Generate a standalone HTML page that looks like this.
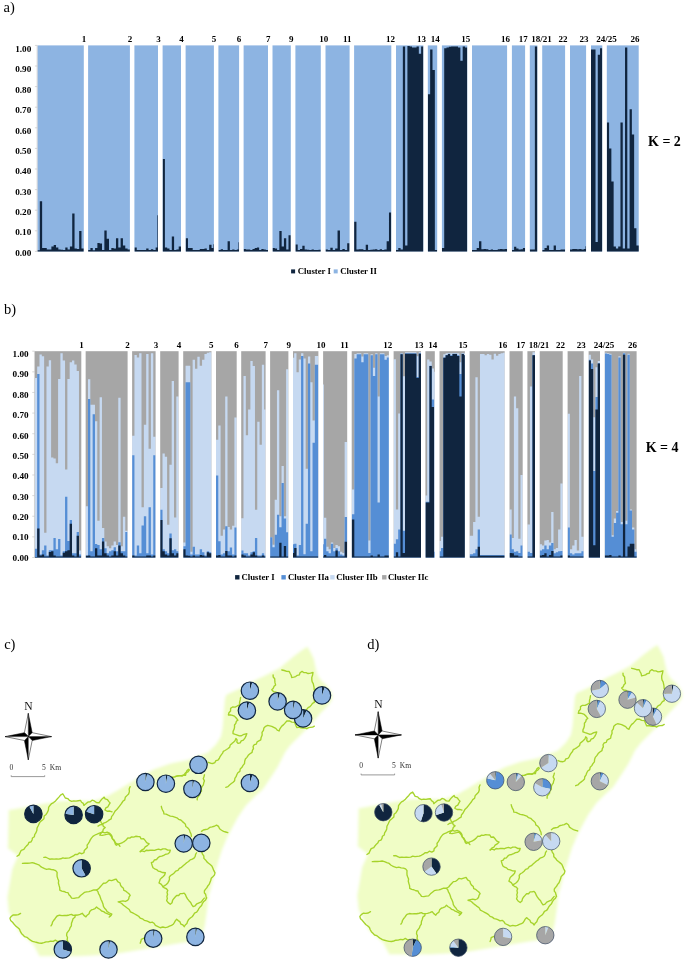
<!DOCTYPE html>
<html lang="en">
<head>
<meta charset="utf-8">
<title>Figure: STRUCTURE clustering K = 2 and K = 4</title>
<style>
html,body{margin:0;padding:0;background:#fff;}
body{width:685px;height:962px;overflow:hidden;}
svg{display:block;}
</style>
</head>
<body>
<svg width="685" height="962" viewBox="0 0 685 962">
<defs><filter id="soft" x="-5%" y="-5%" width="110%" height="110%"><feGaussianBlur stdDeviation="1.6"/></filter></defs>
<rect width="685" height="962" fill="#fff"/>

<g id="chart-a">
<rect x="37.5" y="45.4" width="601.2" height="206" fill="#8db4e2"/>
<path d="M37.5 251.4L37.5 250.16L39.81 250.16L39.81 201.14L42.13 201.14L42.13 248.1L44.45 248.1L44.45 248.1L46.76 248.1L46.76 249.55L49.08 249.55L49.08 249.55L51.39 249.55L51.39 246.46L53.7 246.46L53.7 245.01L56.02 245.01L56.02 247.49L58.34 247.49L58.34 249.55L60.65 249.55L60.65 249.75L62.97 249.75L62.97 249.96L65.28 249.96L65.28 247.49L67.59 247.49L67.59 249.55L69.91 249.55L69.91 246.46L72.22 246.46L72.22 213.5L74.54 213.5L74.54 248.52L76.85 248.52L76.85 248.93L79.17 248.93L79.17 231.01L81.48 231.01L81.48 248.52L83.8 248.52L83.8 251.4Z" fill="#10253f"/>
<path d="M88.1 251.4L88.1 249.96L90.42 249.96L90.42 248.1L92.74 248.1L92.74 250.16L95.07 250.16L95.07 248.1L97.39 248.1L97.39 242.95L99.71 242.95L99.71 243.57L102.03 243.57L102.03 249.96L104.36 249.96L104.36 230.59L106.68 230.59L106.68 238.63L109 238.63L109 249.96L111.32 249.96L111.32 248.1L113.64 248.1L113.64 248.52L115.97 248.52L115.97 238.22L118.29 238.22L118.29 247.49L120.61 247.49L120.61 238.22L122.93 238.22L122.93 245.43L125.26 245.43L125.26 248.52L127.58 248.52L127.58 249.55L129.9 249.55L129.9 251.4Z" fill="#10253f"/>
<path d="M134.4 251.4L134.4 247.49L136.76 247.49L136.76 249.96L139.12 249.96L139.12 249.96L141.48 249.96L141.48 249.96L143.84 249.96L143.84 249.96L146.2 249.96L146.2 248.52L148.56 248.52L148.56 249.96L150.92 249.96L150.92 249.34L153.28 249.34L153.28 249.96L155.64 249.96L155.64 247.49L157.4 247.49L157.4 215.35L158 215.35L158 251.4Z" fill="#10253f"/>
<path d="M162.6 251.4L162.6 158.91L164.9 158.91L164.9 247.49L167.2 247.49L167.2 248.52L169.5 248.52L169.5 249.96L171.8 249.96L171.8 236.57L174.1 236.57L174.1 249.96L176.4 249.96L176.4 249.55L178.7 249.55L178.7 246.46L181 246.46L181 251.4Z" fill="#10253f"/>
<path d="M185.6 251.4L185.6 238.22L187.96 238.22L187.96 248.1L190.32 248.1L190.32 248.1L192.68 248.1L192.68 249.96L195.03 249.96L195.03 249.96L197.39 249.96L197.39 249.96L199.75 249.96L199.75 248.93L202.11 248.93L202.11 248.93L204.47 248.93L204.47 248.52L206.82 248.52L206.82 249.96L209.18 249.96L209.18 244.81L211.54 244.81L211.54 248.1L213.3 248.1L213.3 244.19L213.9 244.19L213.9 251.4Z" fill="#10253f"/>
<path d="M218.4 251.4L218.4 249.96L220.7 249.96L220.7 249.34L223 249.34L223 249.96L225.3 249.96L225.3 249.96L227.6 249.96L227.6 241.31L229.9 241.31L229.9 249.96L232.2 249.96L232.2 249.55L234.5 249.55L234.5 249.96L236.8 249.96L236.8 249.55L238.5 249.55L238.5 242.13L239.1 242.13L239.1 251.4Z" fill="#10253f"/>
<path d="M243.6 251.4L243.6 248.93L245.82 248.93L245.82 249.55L248.04 249.55L248.04 249.55L250.25 249.55L250.25 249.96L252.47 249.96L252.47 248.93L254.69 248.93L254.69 248.1L256.91 248.1L256.91 247.49L259.13 247.49L259.13 249.96L261.35 249.96L261.35 248.93L263.56 248.93L263.56 249.55L265.78 249.55L265.78 249.96L268 249.96L268 251.4Z" fill="#10253f"/>
<path d="M272.5 251.4L272.5 248.1L274.79 248.1L274.79 248.52L277.07 248.52L277.07 249.96L279.36 249.96L279.36 231.01L281.65 231.01L281.65 246.46L283.94 246.46L283.94 238.22L286.23 238.22L286.23 249.55L288.51 249.55L288.51 235.13L290.8 235.13L290.8 251.4Z" fill="#10253f"/>
<path d="M295.4 251.4L295.4 244.4L297.71 244.4L297.71 249.96L300.02 249.96L300.02 248.93L302.33 248.93L302.33 245.63L304.64 245.63L304.64 249.55L306.95 249.55L306.95 249.75L309.25 249.75L309.25 249.96L311.56 249.96L311.56 249.55L313.87 249.55L313.87 249.96L316.18 249.96L316.18 249.96L318.49 249.96L318.49 249.75L320.8 249.75L320.8 251.4Z" fill="#10253f"/>
<path d="M325.5 251.4L325.5 249.55L327.91 249.55L327.91 249.96L330.32 249.96L330.32 247.69L332.73 247.69L332.73 249.96L335.14 249.96L335.14 248.52L337.55 248.52L337.55 230.59L339.96 230.59L339.96 249.96L342.37 249.96L342.37 248.93L344.78 248.93L344.78 249.96L347.19 249.96L347.19 243.37L349.6 243.37L349.6 251.4Z" fill="#10253f"/>
<path d="M354.1 251.4L354.1 221.74L356.43 221.74L356.43 249.55L358.75 249.55L358.75 249.13L361.08 249.13L361.08 249.13L363.4 249.13L363.4 249.96L365.73 249.96L365.73 244.81L368.05 244.81L368.05 249.96L370.38 249.96L370.38 249.75L372.7 249.75L372.7 249.55L375.03 249.55L375.03 249.13L377.35 249.13L377.35 249.96L379.68 249.96L379.68 249.13L382 249.13L382 249.96L384.32 249.96L384.32 249.55L386.65 249.55L386.65 241.31L388.98 241.31L388.98 212.47L391.3 212.47L391.3 251.4Z" fill="#10253f"/>
<path d="M396 251.4L396 249.96L398.28 249.96L398.28 248.1L400.57 248.1L400.57 249.55L402.85 249.55L402.85 46.43L405.13 46.43L405.13 245.43L407.42 245.43L407.42 46.02L409.7 46.02L409.7 46.43L411.98 46.43L411.98 47.46L414.27 47.46L414.27 47.46L416.55 47.46L416.55 46.43L418.83 46.43L418.83 53.64L421.12 53.64L421.12 46.43L423.4 46.43L423.4 251.4Z" fill="#10253f"/>
<path d="M427.8 251.4L427.8 94.22L430.15 94.22L430.15 49.52L432.5 49.52L432.5 70.12L434.85 70.12L434.85 249.96L437.2 249.96L437.2 251.4Z" fill="#10253f"/>
<path d="M441.9 251.4L441.9 248.1L444.21 248.1L444.21 48.28L446.52 48.28L446.52 47.46L448.83 47.46L448.83 46.84L451.14 46.84L451.14 46.43L453.45 46.43L453.45 46.43L455.75 46.43L455.75 46.43L458.06 46.43L458.06 47.46L460.37 47.46L460.37 60.64L462.68 60.64L462.68 46.43L464.99 46.43L464.99 47.46L467.3 47.46L467.3 251.4Z" fill="#10253f"/>
<path d="M472 251.4L472 249.96L474.34 249.96L474.34 249.96L476.68 249.96L476.68 248.1L479.02 248.1L479.02 241.31L481.36 241.31L481.36 249.34L483.7 249.34L483.7 248.93L486.04 248.93L486.04 249.34L488.38 249.34L488.38 249.96L490.72 249.96L490.72 249.55L493.06 249.55L493.06 249.96L495.4 249.96L495.4 249.96L497.74 249.96L497.74 249.13L500.08 249.13L500.08 248.93L502.42 248.93L502.42 249.34L504.76 249.34L504.76 248.93L507.1 248.93L507.1 251.4Z" fill="#10253f"/>
<path d="M511.9 251.4L511.9 249.96L514.1 249.96L514.1 246.87L516.3 246.87L516.3 248.52L518.5 248.52L518.5 249.55L520.7 249.55L520.7 249.34L522.9 249.34L522.9 248.1L525.1 248.1L525.1 251.4Z" fill="#10253f"/>
<path d="M529.8 251.4L529.8 249.55L532.33 249.55L532.33 249.55L534.87 249.55L534.87 46.43L537.4 46.43L537.4 251.4Z" fill="#10253f"/>
<path d="M542.2 251.4L542.2 249.96L544.49 249.96L544.49 248.1L546.78 248.1L546.78 245.43L549.07 245.43L549.07 249.96L551.36 249.96L551.36 249.96L553.65 249.96L553.65 245.43L555.94 245.43L555.94 249.96L558.23 249.96L558.23 249.96L560.52 249.96L560.52 249.55L562.81 249.55L562.81 249.55L565.1 249.55L565.1 251.4Z" fill="#10253f"/>
<path d="M570 251.4L570 249.55L572.3 249.55L572.3 248.93L574.6 248.93L574.6 248.93L576.9 248.93L576.9 249.34L579.2 249.34L579.2 248.93L581.5 248.93L581.5 249.55L583.8 249.55L583.8 248.93L585.5 248.93L585.5 246.25L586.1 246.25L586.1 251.4Z" fill="#10253f"/>
<path d="M591 251.4L591 49.52L593.26 49.52L593.26 49.52L595.52 49.52L595.52 241.92L597.78 241.92L597.78 54.67L600.04 54.67L600.04 48.28L602.3 48.28L602.3 251.4Z" fill="#10253f"/>
<path d="M606.8 251.4L606.8 122.44L609.08 122.44L609.08 148.4L611.36 148.4L611.36 181.57L613.64 181.57L613.64 246.46L615.91 246.46L615.91 248.52L618.19 248.52L618.19 246.46L620.47 246.46L620.47 122.44L622.75 122.44L622.75 248.52L625.03 248.52L625.03 47.46L627.31 47.46L627.31 248.52L629.59 248.52L629.59 109.26L631.86 109.26L631.86 134.39L634.14 134.39L634.14 228.33L636.42 228.33L636.42 245.43L638.7 245.43L638.7 251.4Z" fill="#10253f"/>
<rect x="83.8" y="44.4" width="4.3" height="208" fill="#fff"/>
<rect x="129.9" y="44.4" width="4.5" height="208" fill="#fff"/>
<rect x="158" y="44.4" width="4.6" height="208" fill="#fff"/>
<rect x="181" y="44.4" width="4.6" height="208" fill="#fff"/>
<rect x="213.9" y="44.4" width="4.5" height="208" fill="#fff"/>
<rect x="239.1" y="44.4" width="4.5" height="208" fill="#fff"/>
<rect x="268" y="44.4" width="4.5" height="208" fill="#fff"/>
<rect x="290.8" y="44.4" width="4.6" height="208" fill="#fff"/>
<rect x="320.8" y="44.4" width="4.7" height="208" fill="#fff"/>
<rect x="349.6" y="44.4" width="4.5" height="208" fill="#fff"/>
<rect x="391.3" y="44.4" width="4.7" height="208" fill="#fff"/>
<rect x="423.4" y="44.4" width="4.4" height="208" fill="#fff"/>
<rect x="437.2" y="44.4" width="4.7" height="208" fill="#fff"/>
<rect x="467.3" y="44.4" width="4.7" height="208" fill="#fff"/>
<rect x="507.1" y="44.4" width="4.8" height="208" fill="#fff"/>
<rect x="525.1" y="44.4" width="4.7" height="208" fill="#fff"/>
<rect x="537.4" y="44.4" width="4.8" height="208" fill="#fff"/>
<rect x="565.1" y="44.4" width="4.9" height="208" fill="#fff"/>
<rect x="586.1" y="44.4" width="4.9" height="208" fill="#fff"/>
<rect x="602.3" y="44.4" width="4.5" height="208" fill="#fff"/>
</g>
<g id="chart-b">
<rect x="34.85" y="351.2" width="601.75" height="206.3" fill="#a6a6a6"/>
<path d="M34.85 557.5L34.85 378.02L37.17 378.02L37.17 366.47L39.5 366.47L39.5 354.5L41.82 354.5L41.82 356.15L44.14 356.15L44.14 532.74L46.46 532.74L46.46 366.47L48.78 366.47L48.78 360.28L51.11 360.28L51.11 457.44L53.43 457.44L53.43 458.48L55.75 458.48L55.75 463.22L58.08 463.22L58.08 379.05L60.4 379.05L60.4 353.26L62.72 353.26L62.72 360.48L65.04 360.48L65.04 469.62L67.37 469.62L67.37 379.05L69.69 379.05L69.69 362.13L72.01 362.13L72.01 360.48L74.33 360.48L74.33 364.61L76.66 364.61L76.66 371L78.98 371L78.98 550.49L81.3 550.49L81.3 557.5Z" fill="#c6d9f1"/>
<path d="M34.85 557.5L34.85 548.63L37.17 548.63L37.17 374.1L39.5 374.1L39.5 554.41L41.82 554.41L41.82 550.28L44.14 550.28L44.14 545.53L46.46 545.53L46.46 555.44L48.78 555.44L48.78 550.28L51.11 550.28L51.11 550.28L53.43 550.28L53.43 537.9L55.75 537.9L55.75 549.25L58.08 549.25L58.08 538.93L60.4 538.93L60.4 555.44L62.72 555.44L62.72 551.31L65.04 551.31L65.04 496.64L67.37 496.64L67.37 541L69.69 541L69.69 519.95L72.01 519.95L72.01 553.37L74.33 553.37L74.33 553.37L76.66 553.37L76.66 531.92L78.98 531.92L78.98 554.41L81.3 554.41L81.3 557.5Z" fill="#558ed5"/>
<path d="M34.85 557.5L34.85 556.88L37.17 556.88L37.17 528.62L39.5 528.62L39.5 555.44L41.82 555.44L41.82 554.41L44.14 554.41L44.14 556.47L46.46 556.47L46.46 556.47L48.78 556.47L48.78 551.93L51.11 551.93L51.11 551.31L53.43 551.31L53.43 555.44L55.75 555.44L55.75 556.47L58.08 556.47L58.08 556.47L60.4 556.47L60.4 556.47L62.72 556.47L62.72 552.76L65.04 552.76L65.04 551.31L67.37 551.31L67.37 550.28L69.69 550.28L69.69 523.87L72.01 523.87L72.01 555.44L74.33 555.44L74.33 556.47L76.66 556.47L76.66 535.84L78.98 535.84L78.98 556.47L81.3 556.47L81.3 557.5Z" fill="#10253f"/>
<path d="M85.65 557.5L85.65 506.34L87.98 506.34L87.98 379.26L90.31 379.26L90.31 404.84L92.64 404.84L92.64 404.84L94.97 404.84L94.97 421.34L97.3 421.34L97.3 520.78L99.63 520.78L99.63 397.2L101.96 397.2L101.96 528L104.29 528L104.29 541.41L106.62 541.41L106.62 546.36L108.96 546.36L108.96 548.22L111.29 548.22L111.29 545.53L113.62 545.53L113.62 541.41L115.95 541.41L115.95 545.12L118.28 545.12L118.28 397.82L120.61 397.82L120.61 546.36L122.94 546.36L122.94 516.65L125.27 516.65L125.27 530.68L127.6 530.68L127.6 557.5Z" fill="#c6d9f1"/>
<path d="M85.65 557.5L85.65 555.44L87.98 555.44L87.98 399.06L90.31 399.06L90.31 551.31L92.64 551.31L92.64 414.33L94.97 414.33L94.97 544.09L97.3 544.09L97.3 545.12L99.63 545.12L99.63 549.25L101.96 549.25L101.96 537.9L104.29 537.9L104.29 548.22L106.62 548.22L106.62 553.37L108.96 553.37L108.96 551.31L111.29 551.31L111.29 550.28L113.62 550.28L113.62 547.18L115.95 547.18L115.95 551.31L118.28 551.31L118.28 542.23L120.61 542.23L120.61 551.31L122.94 551.31L122.94 551.31L125.27 551.31L125.27 531.92L127.6 531.92L127.6 557.5Z" fill="#558ed5"/>
<path d="M85.65 557.5L85.65 555.85L87.98 555.85L87.98 555.44L90.31 555.44L90.31 556.47L92.64 556.47L92.64 556.47L94.97 556.47L94.97 548.22L97.3 548.22L97.3 555.44L99.63 555.44L99.63 555.44L101.96 555.44L101.96 541.41L104.29 541.41L104.29 553.37L106.62 553.37L106.62 555.44L108.96 555.44L108.96 556.47L111.29 556.47L111.29 555.44L113.62 555.44L113.62 551.31L115.95 551.31L115.95 555.44L118.28 555.44L118.28 545.53L120.61 545.53L120.61 553.37L122.94 553.37L122.94 555.44L125.27 555.44L125.27 556.47L127.6 556.47L127.6 557.5Z" fill="#10253f"/>
<path d="M132.1 557.5L132.1 435.78L134.45 435.78L134.45 354.91L136.8 354.91L136.8 357.39L139.15 357.39L139.15 353.26L141.5 353.26L141.5 507.16L143.85 507.16L143.85 424.64L146.2 424.64L146.2 354.09L148.55 354.09L148.55 448.78L150.9 448.78L150.9 353.26L153.25 353.26L153.25 436.81L155.6 436.81L155.6 557.5Z" fill="#c6d9f1"/>
<path d="M132.1 557.5L132.1 455.18L134.45 455.18L134.45 555.44L136.8 555.44L136.8 545.53L139.15 545.53L139.15 553.37L141.5 553.37L141.5 525.52L143.85 525.52L143.85 516.24L146.2 516.24L146.2 553.37L148.55 553.37L148.55 507.16L150.9 507.16L150.9 554.41L153.25 554.41L153.25 455.18L155.6 455.18L155.6 557.5Z" fill="#558ed5"/>
<path d="M132.1 557.5L132.1 555.44L134.45 555.44L134.45 556.47L136.8 556.47L136.8 556.47L139.15 556.47L139.15 556.47L141.5 556.47L141.5 556.47L143.85 556.47L143.85 556.47L146.2 556.47L146.2 555.44L148.55 555.44L148.55 555.44L150.9 555.44L150.9 556.47L153.25 556.47L153.25 555.44L155.6 555.44L155.6 557.5Z" fill="#10253f"/>
<path d="M160.2 557.5L160.2 487.98L162.5 487.98L162.5 453.52L164.8 453.52L164.8 456.83L167.1 456.83L167.1 524.7L169.4 524.7L169.4 464.66L171.7 464.66L171.7 381.11L174 381.11L174 517.48L176.3 517.48L176.3 396.59L178.6 396.59L178.6 557.5Z" fill="#c6d9f1"/>
<path d="M160.2 557.5L160.2 509.64L162.5 509.64L162.5 549.25L164.8 549.25L164.8 551.31L167.1 551.31L167.1 553.37L169.4 553.37L169.4 533.57L171.7 533.57L171.7 550.28L174 550.28L174 549.25L176.3 549.25L176.3 551.31L178.6 551.31L178.6 557.5Z" fill="#558ed5"/>
<path d="M160.2 557.5L160.2 519.95L162.5 519.95L162.5 551.31L164.8 551.31L164.8 554.41L167.1 554.41L167.1 555.44L169.4 555.44L169.4 538.31L171.7 538.31L171.7 553.37L174 553.37L174 555.44L176.3 555.44L176.3 553.37L178.6 553.37L178.6 557.5Z" fill="#10253f"/>
<path d="M183.2 557.5L183.2 542.44L185.56 542.44L185.56 365.85L187.92 365.85L187.92 365.85L190.27 365.85L190.27 551.72L192.63 551.72L192.63 359.86L194.99 359.86L194.99 368.74L197.35 368.74L197.35 356.77L199.71 356.77L199.71 365.85L202.07 365.85L202.07 359.66L204.43 359.66L204.43 354.09L206.78 354.09L206.78 352.85L209.14 352.85L209.14 352.23L211.5 352.23L211.5 557.5Z" fill="#c6d9f1"/>
<path d="M183.2 557.5L183.2 546.15L185.56 546.15L185.56 382.14L187.92 382.14L187.92 382.14L190.27 382.14L190.27 554.41L192.63 554.41L192.63 546.77L194.99 546.77L194.99 554.41L197.35 554.41L197.35 554.41L199.71 554.41L199.71 549.25L202.07 549.25L202.07 552.34L204.43 552.34L204.43 555.44L206.78 555.44L206.78 551.31L209.14 551.31L209.14 552.14L211.5 552.14L211.5 557.5Z" fill="#558ed5"/>
<path d="M183.2 557.5L183.2 549.25L185.56 549.25L185.56 555.44L187.92 555.44L187.92 555.85L190.27 555.85L190.27 556.47L192.63 556.47L192.63 555.44L194.99 555.44L194.99 556.47L197.35 556.47L197.35 556.47L199.71 556.47L199.71 555.02L202.07 555.02L202.07 555.44L204.43 555.44L204.43 556.47L206.78 556.47L206.78 552.14L209.14 552.14L209.14 553.37L211.5 553.37L211.5 557.5Z" fill="#10253f"/>
<path d="M216 557.5L216 439.7L218.3 439.7L218.3 425.47L220.6 425.47L220.6 535.63L222.9 535.63L222.9 529.44L225.2 529.44L225.2 396.38L227.5 396.38L227.5 526.97L229.8 526.97L229.8 529.44L232.1 529.44L232.1 525.73L234.4 525.73L234.4 417.42L236.7 417.42L236.7 557.5Z" fill="#c6d9f1"/>
<path d="M216 557.5L216 475.39L218.3 475.39L218.3 541.2L220.6 541.2L220.6 554.41L222.9 554.41L222.9 553.37L225.2 553.37L225.2 526.35L227.5 526.35L227.5 551.31L229.8 551.31L229.8 547.39L232.1 547.39L232.1 554.41L234.4 554.41L234.4 527.59L236.7 527.59L236.7 557.5Z" fill="#558ed5"/>
<path d="M216 557.5L216 555.44L218.3 555.44L218.3 555.02L220.6 555.02L220.6 556.47L222.9 556.47L222.9 556.47L225.2 556.47L225.2 551.1L227.5 551.1L227.5 555.44L229.8 555.44L229.8 555.44L232.1 555.44L232.1 556.47L234.4 556.47L234.4 555.44L236.7 555.44L236.7 557.5Z" fill="#10253f"/>
<path d="M241.2 557.5L241.2 518.3L243.49 518.3L243.49 375.96L245.79 375.96L245.79 435.37L248.08 435.37L248.08 409.38L250.38 409.38L250.38 360.9L252.67 360.9L252.67 366.05L254.96 366.05L254.96 509.64L257.26 509.64L257.26 421.75L259.55 421.75L259.55 444.65L261.85 444.65L261.85 364.82L264.14 364.82L264.14 409.38L265.6 409.38L265.6 557.5Z" fill="#c6d9f1"/>
<path d="M241.2 557.5L241.2 550.49L243.49 550.49L243.49 553.37L245.79 553.37L245.79 553.37L248.08 553.37L248.08 555.44L250.38 555.44L250.38 552.34L252.67 552.34L252.67 551.31L254.96 551.31L254.96 538.11L257.26 538.11L257.26 555.44L259.55 555.44L259.55 555.44L261.85 555.44L261.85 553.37L264.14 553.37L264.14 555.44L265.6 555.44L265.6 557.5Z" fill="#558ed5"/>
<path d="M241.2 557.5L241.2 554.41L243.49 554.41L243.49 555.44L245.79 555.44L245.79 556.47L248.08 556.47L248.08 556.47L250.38 556.47L250.38 554.41L252.67 554.41L252.67 552.34L254.96 552.34L254.96 555.44L257.26 555.44L257.26 556.47L259.55 556.47L259.55 556.47L261.85 556.47L261.85 555.44L264.14 555.44L264.14 556.47L265.6 556.47L265.6 557.5Z" fill="#10253f"/>
<path d="M270.1 557.5L270.1 537.28L272.39 537.28L272.39 544.71L274.68 544.71L274.68 499.74L276.96 499.74L276.96 390.19L279.25 390.19L279.25 516.24L281.54 516.24L281.54 466.11L283.82 466.11L283.82 516.24L286.11 516.24L286.11 369.15L288.4 369.15L288.4 557.5Z" fill="#c6d9f1"/>
<path d="M270.1 557.5L270.1 537.28L272.39 537.28L272.39 547.18L274.68 547.18L274.68 534.81L276.96 534.81L276.96 514.8L279.25 514.8L279.25 527.17L281.54 527.17L281.54 483.03L283.82 483.03L283.82 518.51L286.11 518.51L286.11 532.13L288.4 532.13L288.4 557.5Z" fill="#558ed5"/>
<path d="M270.1 557.5L270.1 556.47L272.39 556.47L272.39 556.47L274.68 556.47L274.68 556.47L276.96 556.47L276.96 556.47L279.25 556.47L279.25 542.85L281.54 542.85L281.54 556.47L283.82 556.47L283.82 545.95L286.11 545.95L286.11 556.47L288.4 556.47L288.4 557.5Z" fill="#10253f"/>
<path d="M293 557.5L293 357.8L294.19 357.8L294.19 353.26L296.49 353.26L296.49 372.24L298.78 372.24L298.78 359.45L301.08 359.45L301.08 353.26L303.37 353.26L303.37 358.42L305.66 358.42L305.66 468.79L307.96 468.79L307.96 356.56L310.25 356.56L310.25 382.14L312.55 382.14L312.55 420.52L314.84 420.52L314.84 355.94L317.13 355.94L317.13 355.94L318.4 355.94L318.4 557.5Z" fill="#c6d9f1"/>
<path d="M293 557.5L293 544.3L294.19 544.3L294.19 543.68L296.49 543.68L296.49 555.44L298.78 555.44L298.78 545.12L301.08 545.12L301.08 355.94L303.37 355.94L303.37 554.2L305.66 554.2L305.66 523.87L307.96 523.87L307.96 363.58L310.25 363.58L310.25 551.31L312.55 551.31L312.55 442.8L314.84 442.8L314.84 364.82L317.13 364.82L317.13 364.82L318.4 364.82L318.4 557.5Z" fill="#558ed5"/>
<path d="M293 557.5L293 552.96L294.19 552.96L294.19 548.01L296.49 548.01L296.49 556.47L298.78 556.47L298.78 556.47L301.08 556.47L301.08 556.47L303.37 556.47L303.37 556.47L305.66 556.47L305.66 556.47L307.96 556.47L307.96 556.47L310.25 556.47L310.25 556.47L312.55 556.47L312.55 556.47L314.84 556.47L314.84 556.47L317.13 556.47L317.13 556.47L318.4 556.47L318.4 557.5Z" fill="#10253f"/>
<path d="M323.1 557.5L323.1 384.62L323.99 384.62L323.99 517.68L326.29 517.68L326.29 546.77L328.58 546.77L328.58 549.25L330.88 549.25L330.88 542.44L333.17 542.44L333.17 548.01L335.46 548.01L335.46 544.92L337.76 544.92L337.76 546.15L340.05 546.15L340.05 551.72L342.35 551.72L342.35 552.96L344.64 552.96L344.64 441.97L346.93 441.97L346.93 441.97L347.2 441.97L347.2 557.5Z" fill="#c6d9f1"/>
<path d="M323.1 557.5L323.1 544.3L323.99 544.3L323.99 538.73L326.29 538.73L326.29 551.31L328.58 551.31L328.58 553.37L330.88 553.37L330.88 543.68L333.17 543.68L333.17 551.31L335.46 551.31L335.46 548.22L337.76 548.22L337.76 551.31L340.05 551.31L340.05 554.41L342.35 554.41L342.35 555.44L344.64 555.44L344.64 517.07L346.93 517.07L346.93 517.07L347.2 517.07L347.2 557.5Z" fill="#558ed5"/>
<path d="M323.1 557.5L323.1 556.47L323.99 556.47L323.99 555.02L326.29 555.02L326.29 556.47L328.58 556.47L328.58 556.47L330.88 556.47L330.88 556.47L333.17 556.47L333.17 556.47L335.46 556.47L335.46 550.49L337.76 550.49L337.76 556.47L340.05 556.47L340.05 556.47L342.35 556.47L342.35 556.47L344.64 556.47L344.64 541.82L346.93 541.82L346.93 541.82L347.2 541.82L347.2 557.5Z" fill="#10253f"/>
<path d="M351.7 557.5L351.7 489.42L354.32 489.42L354.32 354.09L356.64 354.09L356.64 353.26L358.96 353.26L358.96 353.26L361.28 353.26L361.28 356.56L363.6 356.56L363.6 353.26L365.92 353.26L365.92 353.26L368.24 353.26L368.24 540.58L370.56 540.58L370.56 354.29L372.88 354.29L372.88 367.7L375.2 367.7L375.2 353.26L377.52 353.26L377.52 396.38L379.84 396.38L379.84 353.26L382.16 353.26L382.16 353.26L384.48 353.26L384.48 355.94L386.8 355.94L386.8 355.33L388.9 355.33L388.9 557.5Z" fill="#c6d9f1"/>
<path d="M351.7 557.5L351.7 514.18L354.32 514.18L354.32 358.42L356.64 358.42L356.64 354.29L358.96 354.29L358.96 354.29L361.28 354.29L361.28 362.13L363.6 362.13L363.6 354.29L365.92 354.29L365.92 354.29L368.24 354.29L368.24 552.96L370.56 552.96L370.56 355.33L372.88 355.33L372.88 375.96L375.2 375.96L375.2 354.29L377.52 354.29L377.52 502.62L379.84 502.62L379.84 354.29L382.16 354.29L382.16 354.29L384.48 354.29L384.48 359.86L386.8 359.86L386.8 357.39L388.9 357.39L388.9 557.5Z" fill="#558ed5"/>
<path d="M351.7 557.5L351.7 519.54L354.32 519.54L354.32 556.47L356.64 556.47L356.64 556.47L358.96 556.47L358.96 556.47L361.28 556.47L361.28 556.47L363.6 556.47L363.6 556.47L365.92 556.47L365.92 556.47L368.24 556.47L368.24 556.47L370.56 556.47L370.56 555.44L372.88 555.44L372.88 556.47L375.2 556.47L375.2 556.47L377.52 556.47L377.52 554.41L379.84 554.41L379.84 556.47L382.16 556.47L382.16 556.47L384.48 556.47L384.48 555.44L386.8 555.44L386.8 555.44L388.9 555.44L388.9 557.5Z" fill="#10253f"/>
<path d="M393.6 557.5L393.6 359.25L395.88 359.25L395.88 509.43L398.17 509.43L398.17 413.5L400.45 413.5L400.45 353.26L402.73 353.26L402.73 376.37L405.02 376.37L405.02 352.23L407.3 352.23L407.3 352.23L409.58 352.23L409.58 352.23L411.87 352.23L411.87 352.23L414.15 352.23L414.15 352.23L416.43 352.23L416.43 356.36L418.72 356.36L418.72 352.23L421 352.23L421 557.5Z" fill="#c6d9f1"/>
<path d="M393.6 557.5L393.6 543.68L395.88 543.68L395.88 539.35L398.17 539.35L398.17 529.44L400.45 529.44L400.45 353.68L402.73 353.68L402.73 530.68L405.02 530.68L405.02 353.26L407.3 353.26L407.3 353.26L409.58 353.26L409.58 353.26L411.87 353.26L411.87 353.26L414.15 353.26L414.15 353.26L416.43 353.26L416.43 376.99L418.72 376.99L418.72 353.26L421 353.26L421 557.5Z" fill="#558ed5"/>
<path d="M393.6 557.5L393.6 556.47L395.88 556.47L395.88 552.34L398.17 552.34L398.17 556.47L400.45 556.47L400.45 354.29L402.73 354.29L402.73 552.96L405.02 552.96L405.02 353.68L407.3 353.68L407.3 353.68L409.58 353.68L409.58 353.68L411.87 353.68L411.87 353.68L414.15 353.68L414.15 353.68L416.43 353.68L416.43 378.02L418.72 378.02L418.72 353.68L421 353.68L421 557.5Z" fill="#10253f"/>
<path d="M425.4 557.5L425.4 495.61L427.14 495.61L427.14 359.45L429.43 359.45L429.43 361.51L431.72 361.51L431.72 368.53L434.01 368.53L434.01 371.83L434.8 371.83L434.8 557.5Z" fill="#c6d9f1"/>
<path d="M425.4 557.5L425.4 501.8L427.14 501.8L427.14 501.8L429.43 501.8L429.43 365.64L431.72 365.64L431.72 399.47L434.01 399.47L434.01 551.72L434.8 551.72L434.8 557.5Z" fill="#558ed5"/>
<path d="M425.4 557.5L425.4 502.62L427.14 502.62L427.14 502.62L429.43 502.62L429.43 366.05L431.72 366.05L431.72 406.9L434.01 406.9L434.01 557.5L434.8 557.5L434.8 557.5Z" fill="#10253f"/>
<path d="M439.5 557.5L439.5 541L440.99 541L440.99 536.87L443.29 536.87L443.29 354.29L445.58 354.29L445.58 353.26L447.88 353.26L447.88 353.26L450.17 353.26L450.17 353.26L452.46 353.26L452.46 353.26L454.76 353.26L454.76 353.26L457.05 353.26L457.05 353.26L459.35 353.26L459.35 362.13L461.64 362.13L461.64 353.26L463.93 353.26L463.93 353.26L464.9 353.26L464.9 557.5Z" fill="#c6d9f1"/>
<path d="M439.5 557.5L439.5 551.31L440.99 551.31L440.99 548.01L443.29 548.01L443.29 357.39L445.58 357.39L445.58 354.91L447.88 354.91L447.88 353.68L450.17 353.68L450.17 355.33L452.46 355.33L452.46 353.68L454.76 353.68L454.76 353.68L457.05 353.68L457.05 355.33L459.35 355.33L459.35 374.1L461.64 374.1L461.64 353.68L463.93 353.68L463.93 354.91L464.9 354.91L464.9 557.5Z" fill="#558ed5"/>
<path d="M439.5 557.5L439.5 556.47L440.99 556.47L440.99 556.47L443.29 556.47L443.29 357.8L445.58 357.8L445.58 355.33L447.88 355.33L447.88 354.09L450.17 354.09L450.17 355.94L452.46 355.94L452.46 354.09L454.76 354.09L454.76 354.09L457.05 354.09L457.05 355.94L459.35 355.94L459.35 396.38L461.64 396.38L461.64 354.09L463.93 354.09L463.93 355.33L464.9 355.33L464.9 557.5Z" fill="#10253f"/>
<path d="M469.6 557.5L469.6 535.63L470.79 535.63L470.79 535.63L473.09 535.63L473.09 522.02L475.38 522.02L475.38 377.19L477.68 377.19L477.68 516.86L479.97 516.86L479.97 354.09L482.26 354.09L482.26 354.09L484.56 354.09L484.56 355.33L486.85 355.33L486.85 354.09L489.15 354.09L489.15 354.71L491.44 354.71L491.44 359.45L493.73 359.45L493.73 353.68L496.03 353.68L496.03 355.74L498.32 355.74L498.32 354.09L500.62 354.09L500.62 353.26L502.91 353.26L502.91 352.85L504.7 352.85L504.7 557.5Z" fill="#c6d9f1"/>
<path d="M469.6 557.5L469.6 554.2L470.79 554.2L470.79 554.2L473.09 554.2L473.09 553.37L475.38 553.37L475.38 549.25L477.68 549.25L477.68 529.44L479.97 529.44L479.97 555.02L482.26 555.02L482.26 555.02L484.56 555.02L484.56 555.02L486.85 555.02L486.85 555.02L489.15 555.02L489.15 555.02L491.44 555.02L491.44 555.02L493.73 555.02L493.73 555.02L496.03 555.02L496.03 555.02L498.32 555.02L498.32 555.02L500.62 555.02L500.62 555.02L502.91 555.02L502.91 555.02L504.7 555.02L504.7 557.5Z" fill="#558ed5"/>
<path d="M469.6 557.5L469.6 556.47L470.79 556.47L470.79 556.47L473.09 556.47L473.09 556.47L475.38 556.47L475.38 556.47L477.68 556.47L477.68 546.77L479.97 546.77L479.97 555.85L482.26 555.85L482.26 555.85L484.56 555.85L484.56 555.85L486.85 555.85L486.85 555.85L489.15 555.85L489.15 555.85L491.44 555.85L491.44 555.85L493.73 555.85L493.73 555.85L496.03 555.85L496.03 555.85L498.32 555.85L498.32 555.85L500.62 555.85L500.62 555.85L502.91 555.85L502.91 555.85L504.7 555.85L504.7 557.5Z" fill="#10253f"/>
<path d="M509.5 557.5L509.5 509.43L511.7 509.43L511.7 538.11L513.9 538.11L513.9 396.38L516.1 396.38L516.1 408.14L518.3 408.14L518.3 538.73L520.5 538.73L520.5 474.98L522.7 474.98L522.7 557.5Z" fill="#c6d9f1"/>
<path d="M509.5 557.5L509.5 534.39L511.7 534.39L511.7 549.25L513.9 549.25L513.9 551.72L516.1 551.72L516.1 551.31L518.3 551.31L518.3 552.96L520.5 552.96L520.5 545.53L522.7 545.53L522.7 557.5Z" fill="#558ed5"/>
<path d="M509.5 557.5L509.5 552.96L511.7 552.96L511.7 553.37L513.9 553.37L513.9 555.44L516.1 555.44L516.1 555.44L518.3 555.44L518.3 556.47L520.5 556.47L520.5 556.47L522.7 556.47L522.7 557.5Z" fill="#10253f"/>
<path d="M527.4 557.5L527.4 524.49L529.93 524.49L529.93 386.48L532.47 386.48L532.47 352.23L535 352.23L535 557.5Z" fill="#c6d9f1"/>
<path d="M527.4 557.5L527.4 551.72L529.93 551.72L529.93 552.96L532.47 552.96L532.47 354.91L535 354.91L535 557.5Z" fill="#558ed5"/>
<path d="M527.4 557.5L527.4 556.47L529.93 556.47L529.93 556.47L532.47 556.47L532.47 355.33L535 355.33L535 557.5Z" fill="#10253f"/>
<path d="M539.7 557.5L539.7 544.3L542 544.3L542 545.53L544.3 545.53L544.3 540.58L546.6 540.58L546.6 539.96L548.9 539.96L548.9 542.44L551.2 542.44L551.2 512.11L553.5 512.11L553.5 549.25L555.8 549.25L555.8 548.01L558.1 548.01L558.1 529.44L560.4 529.44L560.4 483.44L562.7 483.44L562.7 557.5Z" fill="#c6d9f1"/>
<path d="M539.7 557.5L539.7 550.49L542 550.49L542 549.25L544.3 549.25L544.3 545.53L546.6 545.53L546.6 549.25L548.9 549.25L548.9 545.53L551.2 545.53L551.2 543.06L553.5 543.06L553.5 553.37L555.8 553.37L555.8 552.34L558.1 552.34L558.1 551.31L560.4 551.31L560.4 551.1L562.7 551.1L562.7 557.5Z" fill="#558ed5"/>
<path d="M539.7 557.5L539.7 555.44L542 555.44L542 555.02L544.3 555.02L544.3 553.37L546.6 553.37L546.6 556.47L548.9 556.47L548.9 555.02L551.2 555.02L551.2 551.1L553.5 551.1L553.5 556.47L555.8 556.47L555.8 556.47L558.1 556.47L558.1 556.47L560.4 556.47L560.4 555.44L562.7 555.44L562.7 557.5Z" fill="#10253f"/>
<path d="M567.6 557.5L567.6 413.71L569.9 413.71L569.9 549.25L572.2 549.25L572.2 545.53L574.5 545.53L574.5 539.96L576.8 539.96L576.8 550.49L579.1 550.49L579.1 375.96L581.4 375.96L581.4 536.87L583.7 536.87L583.7 557.5Z" fill="#c6d9f1"/>
<path d="M567.6 557.5L567.6 527.59L569.9 527.59L569.9 553.37L572.2 553.37L572.2 554.41L574.5 554.41L574.5 553.37L576.8 553.37L576.8 553.37L579.1 553.37L579.1 553.37L581.4 553.37L581.4 551.31L583.7 551.31L583.7 557.5Z" fill="#558ed5"/>
<path d="M567.6 557.5L567.6 555.44L569.9 555.44L569.9 556.47L572.2 556.47L572.2 556.47L574.5 556.47L574.5 556.47L576.8 556.47L576.8 556.47L579.1 556.47L579.1 556.47L581.4 556.47L581.4 556.47L583.7 556.47L583.7 557.5Z" fill="#10253f"/>
<path d="M588.6 557.5L588.6 354.71L590.88 354.71L590.88 359.45L593.16 359.45L593.16 417.22L595.44 417.22L595.44 367.29L597.72 367.29L597.72 360.9L600 360.9L600 557.5Z" fill="#c6d9f1"/>
<path d="M588.6 557.5L588.6 359.86L590.88 359.86L590.88 363.58L593.16 363.58L593.16 471.06L595.44 471.06L595.44 397L597.72 397L597.72 363.17L600 363.17L600 557.5Z" fill="#558ed5"/>
<path d="M588.6 557.5L588.6 360.48L590.88 360.48L590.88 368.94L593.16 368.94L593.16 545.33L595.44 545.33L595.44 409.58L597.72 409.58L597.72 363.58L600 363.58L600 557.5Z" fill="#10253f"/>
<path d="M604.7 557.5L604.7 352.85L606.98 352.85L606.98 353.26L609.26 353.26L609.26 353.68L611.54 353.68L611.54 535.22L613.81 535.22L613.81 518.51L616.09 518.51L616.09 511.08L618.37 511.08L618.37 356.36L620.65 356.36L620.65 522.02L622.93 522.02L622.93 352.85L625.21 352.85L625.21 520.78L627.49 520.78L627.49 353.68L629.76 353.68L629.76 509.43L632.04 509.43L632.04 527.59L634.32 527.59L634.32 549.25L636.6 549.25L636.6 557.5Z" fill="#c6d9f1"/>
<path d="M604.7 557.5L604.7 353.47L606.98 353.47L606.98 354.09L609.26 354.09L609.26 354.71L611.54 354.71L611.54 536.87L613.81 536.87L613.81 523.05L616.09 523.05L616.09 512.73L618.37 512.73L618.37 357.6L620.65 357.6L620.65 524.29L622.93 524.29L622.93 353.26L625.21 353.26L625.21 524.29L627.49 524.29L627.49 354.71L629.76 354.71L629.76 510.46L632.04 510.46L632.04 529.44L634.32 529.44L634.32 551.72L636.6 551.72L636.6 557.5Z" fill="#558ed5"/>
<path d="M604.7 557.5L604.7 555.44L606.98 555.44L606.98 555.44L609.26 555.44L609.26 555.02L611.54 555.02L611.54 556.47L613.81 556.47L613.81 556.47L616.09 556.47L616.09 556.47L618.37 556.47L618.37 555.44L620.65 555.44L620.65 556.47L622.93 556.47L622.93 354.71L625.21 354.71L625.21 556.47L627.49 556.47L627.49 546.57L629.76 546.57L629.76 543.68L632.04 543.68L632.04 543.68L634.32 543.68L634.32 556.47L636.6 556.47L636.6 557.5Z" fill="#10253f"/>
<rect x="81.3" y="350.2" width="4.35" height="208.3" fill="#fff"/>
<rect x="127.6" y="350.2" width="4.5" height="208.3" fill="#fff"/>
<rect x="155.6" y="350.2" width="4.6" height="208.3" fill="#fff"/>
<rect x="178.6" y="350.2" width="4.6" height="208.3" fill="#fff"/>
<rect x="211.5" y="350.2" width="4.5" height="208.3" fill="#fff"/>
<rect x="236.7" y="350.2" width="4.5" height="208.3" fill="#fff"/>
<rect x="265.6" y="350.2" width="4.5" height="208.3" fill="#fff"/>
<rect x="288.4" y="350.2" width="4.6" height="208.3" fill="#fff"/>
<rect x="318.4" y="350.2" width="4.7" height="208.3" fill="#fff"/>
<rect x="347.2" y="350.2" width="4.5" height="208.3" fill="#fff"/>
<rect x="388.9" y="350.2" width="4.7" height="208.3" fill="#fff"/>
<rect x="421" y="350.2" width="4.4" height="208.3" fill="#fff"/>
<rect x="434.8" y="350.2" width="4.7" height="208.3" fill="#fff"/>
<rect x="464.9" y="350.2" width="4.7" height="208.3" fill="#fff"/>
<rect x="504.7" y="350.2" width="4.8" height="208.3" fill="#fff"/>
<rect x="522.7" y="350.2" width="4.7" height="208.3" fill="#fff"/>
<rect x="535" y="350.2" width="4.7" height="208.3" fill="#fff"/>
<rect x="562.7" y="350.2" width="4.9" height="208.3" fill="#fff"/>
<rect x="583.7" y="350.2" width="4.9" height="208.3" fill="#fff"/>
<rect x="600" y="350.2" width="4.7" height="208.3" fill="#fff"/>
</g>
<g stroke="#bfbfbf" stroke-width="0.6" fill="none">
<path d="M37.1 45.4 V251.4"/>
<path d="M34.45 351.2 V557.5"/>
<path d="M34.9 45.4 h2.4"/>
<path d="M32.25 351.2 h2.4"/>
<path d="M34.9 66 h2.4"/>
<path d="M32.25 371.83 h2.4"/>
<path d="M34.9 86.6 h2.4"/>
<path d="M32.25 392.46 h2.4"/>
<path d="M34.9 107.2 h2.4"/>
<path d="M32.25 413.09 h2.4"/>
<path d="M34.9 127.8 h2.4"/>
<path d="M32.25 433.72 h2.4"/>
<path d="M34.9 148.4 h2.4"/>
<path d="M32.25 454.35 h2.4"/>
<path d="M34.9 169 h2.4"/>
<path d="M32.25 474.98 h2.4"/>
<path d="M34.9 189.6 h2.4"/>
<path d="M32.25 495.61 h2.4"/>
<path d="M34.9 210.2 h2.4"/>
<path d="M32.25 516.24 h2.4"/>
<path d="M34.9 230.8 h2.4"/>
<path d="M32.25 536.87 h2.4"/>
<path d="M34.9 251.4 h2.4"/>
<path d="M32.25 557.5 h2.4"/>
</g>
<g transform="translate(0 0)">
<path d="M7.2 808.8L26 805.4L44 802L61 799.5L79 799L93 799.3L100 797L108 794L116 789.5L125 784L136.7 777L154.2 767.5L170 762L187 758.6L197 754.8L206.9 751.1L214.7 743.5L219.5 736L221 728L221.8 718L222.5 708L223.5 698L225.4 693.5L231 691L239.8 687L255.9 678.1L264.9 673.8L279.3 666.4L291.8 655.8L300.8 649L308 644.5L311.6 650.8L315.2 658L317 666.9L318.8 674.1L322.4 679.5L327.7 684L332.2 690.3L334 695.7L333.1 701.1L327.7 708.3L320.6 715.4L313.4 724.4L306.2 731.6L299 738.8L291.8 746L286.4 753.1L283.5 759L279.3 767.3L272 778.5L264.5 789.8L256.5 797L247.5 806L239.5 817.6L234 827.7L228.8 837.7L223.5 850.3L219.5 862.8L215.8 875.4L212 890.4L210.3 895L208.6 910L206.5 925L203.9 935.1L195.9 942.5L179.8 944.8L160.6 948L134.9 952.2L112.4 956L80 957.8L38.5 957.8L32.2 945.6L17.9 933.1L10.7 918.8L7.2 911.6L5.8 897.3L10.7 868.7L16.1 856.5L6.3 849Z" fill="#f0fdc6" stroke="#fff" stroke-width="3" stroke-linejoin="round" filter="url(#soft)"/>
<g fill="none" stroke="#a6d32b" stroke-width="1.35" stroke-linejoin="round" stroke-linecap="round">
<path d="M17 856.2L19.12 854.86L20.13 852.54L21.25 850.31L23.86 849.41L25.2 847.38L26.53 845.87L28.06 844.54L28.88 842.5L31.04 841.8L32.09 839.99L32.47 837.99L34.39 836.69L34.69 834.6L35.87 832.93L36.83 830.59L37.04 827.99L38.22 825.73L39.12 823.68L40.19 821.8L41.99 820.4L43.93 818.79L44.16 816.03L46.1 814.43L47.38 812.39L48.44 810.05L48.62 807.38L50.14 805.22L51.64 803.58L53.62 802.53L55.55 800.89L57.18 798.95L58.94 797.14L60.53 795.13L62.78 793.78L64.01 795.76L65.28 798.01L67.73 798.58L69.43 800.41L71.65 801.34L73.7 800.84L76 801.11L78.23 800.74L80.47 800.43L81.56 802.28L83.23 803.39L83.97 805.22"/>
<path d="M120 846.3L118.51 844.35L116.2 843.46L114.53 841.74L113.48 840.12L112.18 838.53L112.06 836.36L111.02 834.64L109.36 833.01L107.2 832.14L104.97 832.9L102.44 832.11L100.1 832.93L98.25 833.65L96.44 834.49L94.6 835.25L92.9 836.31L91.43 838.06L90.28 839.89L89.33 841.85L88.24 843.54L87.08 845.19L87.33 847.54L85.78 848.99L84.27 850.49L83.99 852.59L81.91 853.74L79.42 852.87L77.43 854.46L75.1 854.38L73.43 855.92L71.4 856.97L69.43 857.88L67.27 858.07L65.11 858.29L62.84 857.84L60.8 858.79L58.57 859.1L56.35 858.83L54.12 859.1L51.9 858.86L49.77 859.21L47.84 858.25L45.92 857.25L43.82 857.44"/>
<path d="M22.4 863.3L24.85 863.12L27.33 863.21L29.79 863.06L32.23 862.68L34.58 863.27L36.92 864.22L39.29 865.12L40.82 866.67L42.65 867.74L44.63 868.58L46.65 869.35L48.87 868.91L51.23 869.52L53.6 869.76L55.7 870.56L57.13 872.39L57.02 874.47L57.13 876.62L57.83 878.71L58.66 880.8L58.39 882.98L59.01 885.29L59.71 887.63L59.8 890.13L61.81 891.13L63.95 891.46L65.87 892.45L68.04 892.68L68.96 894.73L70.49 896.3L71.6 898.14L73.96 898.37L76.33 897.88L78.73 897.56L80.53 895.53L82.5 893.9L84.34 892.4L86.61 891.9L88.94 891.57L91.18 890.93L93.78 889.84L96.58 889.98L98.73 888.69L100.3 886.74L101.99 884.89L103.45 883.28L105.81 883.04L107.45 881.67L108.97 880.1L111.55 880.66L113.84 879.76L116.17 879.13L117.71 881.64L120.04 882.97L120.53 885.04L121.64 886.83L123.42 888.29L123.81 890.44L125.85 891.18L127.37 892.5L128.96 893.73L130.22 895.37L129.09 896.97L128.72 898.89L127.59 900.45L125.38 901.46L122.87 900.89L120.5 901.4L118.13 901.96L120.17 902.5L121.96 903.69L123.48 905.26L125.22 906.54L127.18 908.05L129.21 909.48L130.46 911.84L132.73 912.97L134.74 914L136.71 915.11L138.63 916.3L140.16 918.05L142.4 918.84L144.28 920.32L146.63 920.84L148.38 921.57L150.13 922.56L152.25 922.12L153.96 923.24L155.4 925.46L157.95 926.65L160.23 927.74L162.83 927.01L165.29 927.67L167.46 927.12L169.46 926.13L171.54 925.41L173.2 924.3L174.31 922.61L175.29 920.83L176.63 919.32L178.27 920.63L180.01 921.89L180.85 924.05L182.92 924.98L184.23 926.67L185.27 924.98L186.9 923.48L187.62 921.33L188.72 919.46L190.33 917.95L192.12 916.7L193.48 915.04L194.53 913.06L196.66 912.18L197.93 910.43L198.85 908.55L200.13 906.92L201.61 905.43L202.5 903.32L203.79 901.47L205.6 899.98L206.51 897.87"/>
<path d="M96.6 890.1L97.95 891.67L98.49 893.63L99.58 895.33L100.25 897.23L101 899.53L102.1 901.67L102.97 903.91L103.43 906.31L104.56 908.23L106.06 909.83L107.18 911.68L109.52 913L111.86 914.21L110.68 915.88L109.18 917.08"/>
<path d="M20.6 913.4L18.37 914.69L15.9 915.02L13.33 914.91L11.41 916.3L9.94 918.09L10.62 920.43L12.58 922.25L14.17 924.23L15.84 926.16L17.92 927.68L19.55 929.26L20.37 931.43L21.47 933.4L23.07 935L24.66 936.69L26.96 937.34L28.64 938.81L30.44 940.15L32.49 941.33L34.73 941.95L36.99 942.49L39.22 943.15L41.61 943.23L43.83 942.71L46.02 941.93L48.28 941.82L50.58 941.06L53.2 941.45L55.38 940.11L57.62 941.52L60.24 941.23L62.64 941.84L65.3 942.61L68 942.06"/>
<path d="M68 942L67.14 939.84L67.48 937.56L66.62 935.4L66.86 933.12L68.18 931.29L69.48 929.61L70.17 927.56L71.36 925.82L71.47 923.37L72.37 921.08L73.02 918.73L74.87 917.33L75.28 915.29L77.61 915.03L79.99 914.35L82.27 913.28L83.9 915.35L85.93 916.87L87.13 915.18L89.05 913.81L89.74 911.52L91.38 909.94L93.19 909.29L95.08 908.56L96.55 907L98.25 908.42L100.07 909.47L101.59 911.01L103.68 911.63L105.31 912.87L107.16 913.68L109.01 914.47L110.82 915.35"/>
<path d="M51 925.9L52.07 924.2L52.54 922.21L53.61 920.5L54.83 919.06L55.88 917.47L57.09 916.01L59.53 915.23L62.02 915.62L64.44 915.49L66.84 915.48L69.18 914.97L71.51 914.38L73.16 915.31L75.08 915.26"/>
<path d="M161.3 806.3L161.78 808.25L162.56 810.1L163.59 811.86L163.94 813.85L166.12 814.09L168.2 815.14L170.3 816.12L172.6 816.42L174.75 817.11L176.9 817.8L178.62 819.37L180.8 819.99L182.49 821.61L184.01 822.87L185.42 824.33L185.9 826.55L187.62 827.77L189.26 829.61L190.04 831.84L191.06 833.98L191.4 836.4"/>
<path d="M201.5 831.4L203.33 829.98L205.53 829.48L207.77 829.08L209.67 827.42L212.06 826.9L214.38 826.23L216.52 825.14L218.56 826.44L219.59 828.81L221.58 830.22L223.56 831.29L225.68 831.99L227.81 832.68"/>
<path d="M201.7 851.5L202.33 853.84L203.78 855.82L203.92 858.37L205.76 860.19L206.93 861.87L208.54 863.26L210.21 864.59L211.85 865.95L212.79 868.01L213.73 870.41L215.02 872.82L214.37 875.14L212.82 876.75L211.22 878.32L210.7 880.52L209.9 882.45L209.13 884.42L207.72 886.06L206.72 887.91L205.42 889.34L204.36 890.9L204.42 893.01L205.62 894.31L206.01 896.23L206.6 898.05"/>
<path d="M140.2 851.5L142.18 850.92L144.32 851.66L146.19 850.22L148.28 850.52L150.29 850.24L152.39 850.12L154.53 850.44L156.54 849.56L158.6 849.15L160.79 849.94L162.78 848.82L165.4 848.83L167.75 850.16L170.32 850.2L169.55 852.49L167.72 853.95L165.61 854.25L163.72 855.31L161.76 856.18L159.6 856.51L157.82 857.85L156.58 859.5L154.4 859.98L153.27 861.79L151.32 862.57L152.12 865.31L152.98 867.75L154.65 868.8L156.61 869.58L158.2 871.09L160.33 871.53L162.73 872.53L165.35 872.72L164.64 874.99L163.26 876.55L161.59 877.89L160.22 879.3L159.66 881.12L159 882.9L161.38 884.32L162.88 886.62L164.62 885.63L166.34 884.43L167.83 882.94L168.82 881.16L169.5 879.3L169.27 877.14L170.56 875.49L172.39 874.41L174.17 872.96L175.69 871.11L177.93 870.35L179.32 868.4L181.47 867.36L183.16 865.78L184.93 864.29L186.62 862.71L188.56 861.53L190.16 859.86L192.39 859.15L194.29 857.94L195.26 856.24L195.57 854.32L196.6 852.75"/>
<path d="M162.8 886.7L164.43 887.98L166.44 888.75L167.76 890.46L167.03 892.36L167.55 894.47L166.89 896.44L167.35 898.54L166.65 900.51L168.14 902.66L170.28 904.22L172.02 902.77L172.55 900.49L173.74 898.68L175.2 897.06L176.66 895.44L178.7 895.45L180.18 893.63L182.26 893.62L184.16 893.07L185.48 894.73L186.34 896.91L187.51 898.88L188.96 900.66L190.69 902.41L191.7 904.62L193.13 906.56L195.18 905.78L196.84 903.78L199.08 902.79L201.39 901.86L202.75 899.89L204.31 898.11"/>
<path d="M314.3 726.1L312.58 727.2L310.54 727.31L308.57 727.65L306.84 728.71L304.86 727.84L302.82 727.96L300.81 727.78L298.85 727.21L296.78 727.57L295.95 725.74L295.26 724L294.49 722.31L291.77 722.13L289.41 720.92L286.82 720.98L285.21 722.84L283.66 724.63L281.8 726.1L280.72 727.64L279.71 729.22L279.11 731.01L277.24 730.16L275.8 728.3L273.79 727.29L271.76 726.31L269.8 725.9L267.7 725.45L265.6 726.37L263.91 727.93L263.43 730.47L262.01 732.47L262.19 735.02L261.14 737.42L260.75 739.93L258.88 740.91L257.11 741.86L256.33 744.06L254.29 744.66L253.1 746.45L253.47 748.66L252.4 750.38L252.08 752.36L249.97 753.71L248.24 755.31L246.93 757.33L245.38 759.04L244.69 761.19L244.5 763.6L243.03 765.37L241.96 767.33L240.27 768.92L239.83 771.33L237.85 772.73L236.79 774.72L236.08 776.73L234.87 778.46L234.61 780.67L233.13 782.26L231.35 783.58L229.54 784.94L227.98 786.66L225.76 787.39"/>
<path d="M273.1 674.9L273.2 677L274.71 678.75L274.83 680.84L275.03 682.92L275.62 684.89L274.08 686.36L273.28 688.34L271.76 689.8L273.64 691.7L276.23 692.12L277.96 693.93"/>
<path d="M281.8 670L284.28 670.5L286.7 671.44L289.25 671.49L290.1 673.28L291.19 675.24L291.65 677.46L293.8 677.14L295.69 676.57L297.35 675.31L299.32 674.96L300.03 672.7L302.03 671.35L303.68 672.49L306.04 672.6L308.08 673.51L310.52 673.19L313 672.49L312.61 674.97L311.81 677.37L311.81 679.9L312.19 681.85L313.24 683.59L313.67 685.53L314.07 687.48L314.22 689.98L315.65 692.31L315.59 694.89L315.46 697.46L314.22 699.82L314.38 702.41L312.52 703.39L311.27 705.06L309.99 706.67L308.13 707.56L306.58 709.68L304.43 711.23"/>
<path d="M240.6 697.4L240.2 699.9L239.56 702.36L239.59 704.93L237.29 705.98L235.19 707.07L232.59 707.01L230.6 708.36L230.56 710.98L228.91 712.75L228.4 714.98L230.36 714.8L232.4 715.36L234.39 716.14L236.21 718.04L237.89 720.11L236.38 721.21L235.83 723.38L234.51 724.98L234.56 727.14L234.07 729.29L233.08 731.37L233 733.57L235.28 734.4L237.41 735.09L239.47 735.94L241.38 735.78L243.1 734.7L245 734.16L246.89 733.58L246.01 735.92L244.89 738.11L243.36 740.05L241.25 740.88L240.14 742.87L237.98 743.43L236.87 742.14L237.1 739.98L235.91 738.5L235.02 740.71L233.48 742.17L231.9 743.6L230.21 744.93L229.72 747.14L228.07 748.51L226.58 749.53L224.97 750.48L223.32 751.34L222.62 753.16L221.25 754.83L220.1 756.6L219.26 758.53L218 760.04L215.91 760.62L214.92 762.56L213.1 763.47L210.63 763.24L208.21 762.26"/>
<path d="M189.5 769.8L187.96 771.76L185.63 772.76L184.09 774.71L182.07 776.08L179.5 775.56L177 775.85L174.59 777L171.98 777.22"/>
<path d="M204.5 774.8L203.94 776.76L203.24 778.7L204.45 780.9L203.73 782.84L203.35 784.82L202.01 786.63L201.27 788.63L201.49 790.99L199.9 792.68L199.67 794.86L198.44 796.36L197.28 797.86L197.2 799.9"/>
<path d="M130.1 786.7L129.17 789.05L129.39 791.63L128.62 794L126.91 795.63L125.29 797.32L124.75 799.87L122.83 801.32L121.59 803.46L120.09 805.4L118.55 807.31L117.04 809.21L115.21 810.88L114.02 813.02L113 814.91L111.57 816.62L111.2 818.85L109.26 819.88L107.58 821.22L105.78 822.36L103.75 823.11L102.05 824.52L99.84 824.95L98.02 826.14"/>
<path d="M100 817.6L100.31 820.19L101.2 822.63L102.62 824.24L103.31 826.33L105.24 827.52L103.31 829.28L102.68 831.57L100.96 833.13L99.79 835.06L102.26 835.31L104.45 834.91L106.62 834.39L108.78 833.78L110.41 835.2L111.54 836.89L112.51 838.72L114.08 840.05L114.94 841.76L115.14 843.74L116.38 845.21L118.42 844.24L120.5 843.44L122.53 842.52L124.59 841.33L126.39 839.76L127.89 837.89L129.79 838.13L131.66 836.84L133.72 837.08L135.65 836.29L137.72 836.54L139.91 836.68L141.12 838.94L143.61 838.69L145.09 840.41L146.63 842.57L149.19 843.81L147.3 845.63L145.23 846.9L143.94 848.94L141.83 849.84L140.32 851.69"/>
<path d="M175.3 776.5L177.33 776.1L179.33 775.56L181.42 775.62L183.44 775.13L185.54 775.28L186.06 772.84L186.88 770.81L188.54 769.22"/>
<path d="M84 805.2L85.91 803.76L87.7 802.14L90.28 801.73L92.09 800.14L94.37 800.91L96.41 802.59L99.09 802.79L100.03 801.32L101.26 799.8L102.63 798.4L104.17 797.14L105.09 798.91L107.46 799.54L108.65 801.35L110.13 802.87L108.91 804.86L107.9 806.79L105.8 807.93L104.88 809.91L107.17 811.24L109.75 811.04L112.05 811.82"/>
<path d="M140.2 943.2L140.92 941.32L141.28 939.32L143.98 938.07"/>
</g>
<path d="M249.9 690.7L249.9 682A8.7 8.7 0 0 1 252.33 682.35Z" fill="#10253f"/>
<path d="M249.9 690.7L252.33 682.35A8.7 8.7 0 1 1 249.9 682Z" fill="#8db4e2"/>
<circle cx="249.9" cy="690.7" r="8.7" fill="none" stroke="#10253f" stroke-width="1.2"/>
<path d="M246.9 710.6L246.9 701.9A8.7 8.7 0 0 1 249.33 702.25Z" fill="#10253f"/>
<path d="M246.9 710.6L249.33 702.25A8.7 8.7 0 1 1 246.9 701.9Z" fill="#8db4e2"/>
<circle cx="246.9" cy="710.6" r="8.7" fill="none" stroke="#10253f" stroke-width="1.2"/>
<path d="M277.6 701.4L277.6 692.7A8.7 8.7 0 0 1 280.03 693.05Z" fill="#10253f"/>
<path d="M277.6 701.4L280.03 693.05A8.7 8.7 0 1 1 277.6 692.7Z" fill="#8db4e2"/>
<circle cx="277.6" cy="701.4" r="8.7" fill="none" stroke="#10253f" stroke-width="1.2"/>
<path d="M303.1 718.4L303.1 709.7A8.7 8.7 0 0 1 306.56 710.42Z" fill="#10253f"/>
<path d="M303.1 718.4L306.56 710.42A8.7 8.7 0 1 1 303.1 709.7Z" fill="#8db4e2"/>
<circle cx="303.1" cy="718.4" r="8.7" fill="none" stroke="#10253f" stroke-width="1.2"/>
<path d="M293.1 709.9L293.1 701.2A8.7 8.7 0 0 1 295 701.41Z" fill="#10253f"/>
<path d="M293.1 709.9L295 701.41A8.7 8.7 0 1 1 293.1 701.2Z" fill="#8db4e2"/>
<circle cx="293.1" cy="709.9" r="8.7" fill="none" stroke="#10253f" stroke-width="1.2"/>
<path d="M322 695.4L322 686.7A8.7 8.7 0 0 1 324.69 687.13Z" fill="#10253f"/>
<path d="M322 695.4L324.69 687.13A8.7 8.7 0 1 1 322 686.7Z" fill="#8db4e2"/>
<circle cx="322" cy="695.4" r="8.7" fill="none" stroke="#10253f" stroke-width="1.2"/>
<circle cx="198.5" cy="764.8" r="8.7" fill="#8db4e2"/>
<circle cx="198.5" cy="764.8" r="8.7" fill="none" stroke="#10253f" stroke-width="1.2"/>
<path d="M145.4 782L145.4 773.3A8.7 8.7 0 0 1 147.3 773.51Z" fill="#10253f"/>
<path d="M145.4 782L147.3 773.51A8.7 8.7 0 1 1 145.4 773.3Z" fill="#8db4e2"/>
<circle cx="145.4" cy="782" r="8.7" fill="none" stroke="#10253f" stroke-width="1.2"/>
<path d="M165.9 783.7L165.9 775A8.7 8.7 0 0 1 167.53 775.15Z" fill="#10253f"/>
<path d="M165.9 783.7L167.53 775.15A8.7 8.7 0 1 1 165.9 775Z" fill="#8db4e2"/>
<circle cx="165.9" cy="783.7" r="8.7" fill="none" stroke="#10253f" stroke-width="1.2"/>
<path d="M192.4 789L192.4 780.3A8.7 8.7 0 0 1 194.03 780.45Z" fill="#10253f"/>
<path d="M192.4 789L194.03 780.45A8.7 8.7 0 1 1 192.4 780.3Z" fill="#8db4e2"/>
<circle cx="192.4" cy="789" r="8.7" fill="none" stroke="#10253f" stroke-width="1.2"/>
<path d="M249.9 783L249.9 774.3A8.7 8.7 0 0 1 252.59 774.73Z" fill="#10253f"/>
<path d="M249.9 783L252.59 774.73A8.7 8.7 0 1 1 249.9 774.3Z" fill="#8db4e2"/>
<circle cx="249.9" cy="783" r="8.7" fill="none" stroke="#10253f" stroke-width="1.2"/>
<path d="M33.4 813.9L33.4 805.2A8.7 8.7 0 1 1 29.21 806.28Z" fill="#10253f"/>
<path d="M33.4 813.9L29.21 806.28A8.7 8.7 0 0 1 33.4 805.2Z" fill="#8db4e2"/>
<circle cx="33.4" cy="813.9" r="8.7" fill="none" stroke="#10253f" stroke-width="1.2"/>
<path d="M73.6 814.9L73.6 806.2A8.7 8.7 0 1 1 64.97 813.81Z" fill="#10253f"/>
<path d="M73.6 814.9L64.97 813.81A8.7 8.7 0 0 1 73.6 806.2Z" fill="#8db4e2"/>
<circle cx="73.6" cy="814.9" r="8.7" fill="none" stroke="#10253f" stroke-width="1.2"/>
<path d="M94.1 814.2L94.1 805.5A8.7 8.7 0 1 1 85.83 811.51Z" fill="#10253f"/>
<path d="M94.1 814.2L85.83 811.51A8.7 8.7 0 0 1 94.1 805.5Z" fill="#8db4e2"/>
<circle cx="94.1" cy="814.2" r="8.7" fill="none" stroke="#10253f" stroke-width="1.2"/>
<path d="M183.7 843.5L183.7 834.8A8.7 8.7 0 0 1 185.33 834.95Z" fill="#10253f"/>
<path d="M183.7 843.5L185.33 834.95A8.7 8.7 0 1 1 183.7 834.8Z" fill="#8db4e2"/>
<circle cx="183.7" cy="843.5" r="8.7" fill="none" stroke="#10253f" stroke-width="1.2"/>
<circle cx="201.3" cy="842.9" r="8.7" fill="#8db4e2"/>
<circle cx="201.3" cy="842.9" r="8.7" fill="none" stroke="#10253f" stroke-width="1.2"/>
<path d="M81.6 868.3L81.6 859.6A8.7 8.7 0 0 1 85.79 875.92Z" fill="#10253f"/>
<path d="M81.6 868.3L85.79 875.92A8.7 8.7 0 1 1 81.6 859.6Z" fill="#8db4e2"/>
<circle cx="81.6" cy="868.3" r="8.7" fill="none" stroke="#10253f" stroke-width="1.2"/>
<path d="M62.8 949.4L62.8 940.7A8.7 8.7 0 0 1 71.07 952.09Z" fill="#10253f"/>
<path d="M62.8 949.4L71.07 952.09A8.7 8.7 0 1 1 62.8 940.7Z" fill="#8db4e2"/>
<circle cx="62.8" cy="949.4" r="8.7" fill="none" stroke="#10253f" stroke-width="1.2"/>
<path d="M108.5 949.4L108.5 940.7A8.7 8.7 0 0 1 110.13 940.85Z" fill="#10253f"/>
<path d="M108.5 949.4L110.13 940.85A8.7 8.7 0 1 1 108.5 940.7Z" fill="#8db4e2"/>
<circle cx="108.5" cy="949.4" r="8.7" fill="none" stroke="#10253f" stroke-width="1.2"/>
<path d="M153.2 938.6L153.2 929.9A8.7 8.7 0 0 1 154.83 930.05Z" fill="#10253f"/>
<path d="M153.2 938.6L154.83 930.05A8.7 8.7 0 1 1 153.2 929.9Z" fill="#8db4e2"/>
<circle cx="153.2" cy="938.6" r="8.7" fill="none" stroke="#10253f" stroke-width="1.2"/>
<path d="M195.4 936.9L195.4 928.2A8.7 8.7 0 0 1 197.03 928.35Z" fill="#10253f"/>
<path d="M195.4 936.9L197.03 928.35A8.7 8.7 0 1 1 195.4 928.2Z" fill="#8db4e2"/>
<circle cx="195.4" cy="936.9" r="8.7" fill="none" stroke="#10253f" stroke-width="1.2"/>
<g stroke="#000" stroke-width="0.5" stroke-linejoin="miter">
<path d="M28.3 736.6L28.3 713.4L32.2 732.7Z" fill="#000"/>
<path d="M28.3 736.6L28.3 713.4L24.4 732.7Z" fill="#fff"/>
<path d="M28.3 736.6L51.5 736.6L32.2 740.5Z" fill="#000"/>
<path d="M28.3 736.6L51.5 736.6L32.2 732.7Z" fill="#fff"/>
<path d="M28.3 736.6L28.3 759.8L24.4 740.5Z" fill="#000"/>
<path d="M28.3 736.6L28.3 759.8L32.2 740.5Z" fill="#fff"/>
<path d="M28.3 736.6L5.1 736.6L24.4 732.7Z" fill="#000"/>
<path d="M28.3 736.6L5.1 736.6L24.4 740.5Z" fill="#fff"/>
</g>
<path d="M11.2 775.3V776.6H44.7V775.3" fill="none" stroke="#7f7f7f" stroke-width="0.8"/>
<g font-family="'Liberation Serif', 'Times New Roman', serif" fill="#333">
<text x="28.5" y="709.7" font-size="11.6" text-anchor="middle" fill="#111">N</text>
<text x="11.3" y="769.7" font-size="7.6" text-anchor="middle">0</text>
<text x="44" y="769.7" font-size="7.6" text-anchor="middle">5</text>
<text x="49.8" y="769.7" font-size="7.6">Km</text>
</g>
</g>
<g transform="translate(349.9 -1.7)">
<path d="M7.2 808.8L26 805.4L44 802L61 799.5L79 799L93 799.3L100 797L108 794L116 789.5L125 784L136.7 777L154.2 767.5L170 762L187 758.6L197 754.8L206.9 751.1L214.7 743.5L219.5 736L221 728L221.8 718L222.5 708L223.5 698L225.4 693.5L231 691L239.8 687L255.9 678.1L264.9 673.8L279.3 666.4L291.8 655.8L300.8 649L308 644.5L311.6 650.8L315.2 658L317 666.9L318.8 674.1L322.4 679.5L327.7 684L332.2 690.3L334 695.7L333.1 701.1L327.7 708.3L320.6 715.4L313.4 724.4L306.2 731.6L299 738.8L291.8 746L286.4 753.1L283.5 759L279.3 767.3L272 778.5L264.5 789.8L256.5 797L247.5 806L239.5 817.6L234 827.7L228.8 837.7L223.5 850.3L219.5 862.8L215.8 875.4L212 890.4L210.3 895L208.6 910L206.5 925L203.9 935.1L195.9 942.5L179.8 944.8L160.6 948L134.9 952.2L112.4 956L80 957.8L38.5 957.8L32.2 945.6L17.9 933.1L10.7 918.8L7.2 911.6L5.8 897.3L10.7 868.7L16.1 856.5L6.3 849Z" fill="#f0fdc6" stroke="#fff" stroke-width="3" stroke-linejoin="round" filter="url(#soft)"/>
<g fill="none" stroke="#a6d32b" stroke-width="1.35" stroke-linejoin="round" stroke-linecap="round">
<path d="M17 856.2L19.12 854.86L20.13 852.54L21.25 850.31L23.86 849.41L25.2 847.38L26.53 845.87L28.06 844.54L28.88 842.5L31.04 841.8L32.09 839.99L32.47 837.99L34.39 836.69L34.69 834.6L35.87 832.93L36.83 830.59L37.04 827.99L38.22 825.73L39.12 823.68L40.19 821.8L41.99 820.4L43.93 818.79L44.16 816.03L46.1 814.43L47.38 812.39L48.44 810.05L48.62 807.38L50.14 805.22L51.64 803.58L53.62 802.53L55.55 800.89L57.18 798.95L58.94 797.14L60.53 795.13L62.78 793.78L64.01 795.76L65.28 798.01L67.73 798.58L69.43 800.41L71.65 801.34L73.7 800.84L76 801.11L78.23 800.74L80.47 800.43L81.56 802.28L83.23 803.39L83.97 805.22"/>
<path d="M120 846.3L118.51 844.35L116.2 843.46L114.53 841.74L113.48 840.12L112.18 838.53L112.06 836.36L111.02 834.64L109.36 833.01L107.2 832.14L104.97 832.9L102.44 832.11L100.1 832.93L98.25 833.65L96.44 834.49L94.6 835.25L92.9 836.31L91.43 838.06L90.28 839.89L89.33 841.85L88.24 843.54L87.08 845.19L87.33 847.54L85.78 848.99L84.27 850.49L83.99 852.59L81.91 853.74L79.42 852.87L77.43 854.46L75.1 854.38L73.43 855.92L71.4 856.97L69.43 857.88L67.27 858.07L65.11 858.29L62.84 857.84L60.8 858.79L58.57 859.1L56.35 858.83L54.12 859.1L51.9 858.86L49.77 859.21L47.84 858.25L45.92 857.25L43.82 857.44"/>
<path d="M22.4 863.3L24.85 863.12L27.33 863.21L29.79 863.06L32.23 862.68L34.58 863.27L36.92 864.22L39.29 865.12L40.82 866.67L42.65 867.74L44.63 868.58L46.65 869.35L48.87 868.91L51.23 869.52L53.6 869.76L55.7 870.56L57.13 872.39L57.02 874.47L57.13 876.62L57.83 878.71L58.66 880.8L58.39 882.98L59.01 885.29L59.71 887.63L59.8 890.13L61.81 891.13L63.95 891.46L65.87 892.45L68.04 892.68L68.96 894.73L70.49 896.3L71.6 898.14L73.96 898.37L76.33 897.88L78.73 897.56L80.53 895.53L82.5 893.9L84.34 892.4L86.61 891.9L88.94 891.57L91.18 890.93L93.78 889.84L96.58 889.98L98.73 888.69L100.3 886.74L101.99 884.89L103.45 883.28L105.81 883.04L107.45 881.67L108.97 880.1L111.55 880.66L113.84 879.76L116.17 879.13L117.71 881.64L120.04 882.97L120.53 885.04L121.64 886.83L123.42 888.29L123.81 890.44L125.85 891.18L127.37 892.5L128.96 893.73L130.22 895.37L129.09 896.97L128.72 898.89L127.59 900.45L125.38 901.46L122.87 900.89L120.5 901.4L118.13 901.96L120.17 902.5L121.96 903.69L123.48 905.26L125.22 906.54L127.18 908.05L129.21 909.48L130.46 911.84L132.73 912.97L134.74 914L136.71 915.11L138.63 916.3L140.16 918.05L142.4 918.84L144.28 920.32L146.63 920.84L148.38 921.57L150.13 922.56L152.25 922.12L153.96 923.24L155.4 925.46L157.95 926.65L160.23 927.74L162.83 927.01L165.29 927.67L167.46 927.12L169.46 926.13L171.54 925.41L173.2 924.3L174.31 922.61L175.29 920.83L176.63 919.32L178.27 920.63L180.01 921.89L180.85 924.05L182.92 924.98L184.23 926.67L185.27 924.98L186.9 923.48L187.62 921.33L188.72 919.46L190.33 917.95L192.12 916.7L193.48 915.04L194.53 913.06L196.66 912.18L197.93 910.43L198.85 908.55L200.13 906.92L201.61 905.43L202.5 903.32L203.79 901.47L205.6 899.98L206.51 897.87"/>
<path d="M96.6 890.1L97.95 891.67L98.49 893.63L99.58 895.33L100.25 897.23L101 899.53L102.1 901.67L102.97 903.91L103.43 906.31L104.56 908.23L106.06 909.83L107.18 911.68L109.52 913L111.86 914.21L110.68 915.88L109.18 917.08"/>
<path d="M20.6 913.4L18.37 914.69L15.9 915.02L13.33 914.91L11.41 916.3L9.94 918.09L10.62 920.43L12.58 922.25L14.17 924.23L15.84 926.16L17.92 927.68L19.55 929.26L20.37 931.43L21.47 933.4L23.07 935L24.66 936.69L26.96 937.34L28.64 938.81L30.44 940.15L32.49 941.33L34.73 941.95L36.99 942.49L39.22 943.15L41.61 943.23L43.83 942.71L46.02 941.93L48.28 941.82L50.58 941.06L53.2 941.45L55.38 940.11L57.62 941.52L60.24 941.23L62.64 941.84L65.3 942.61L68 942.06"/>
<path d="M68 942L67.14 939.84L67.48 937.56L66.62 935.4L66.86 933.12L68.18 931.29L69.48 929.61L70.17 927.56L71.36 925.82L71.47 923.37L72.37 921.08L73.02 918.73L74.87 917.33L75.28 915.29L77.61 915.03L79.99 914.35L82.27 913.28L83.9 915.35L85.93 916.87L87.13 915.18L89.05 913.81L89.74 911.52L91.38 909.94L93.19 909.29L95.08 908.56L96.55 907L98.25 908.42L100.07 909.47L101.59 911.01L103.68 911.63L105.31 912.87L107.16 913.68L109.01 914.47L110.82 915.35"/>
<path d="M51 925.9L52.07 924.2L52.54 922.21L53.61 920.5L54.83 919.06L55.88 917.47L57.09 916.01L59.53 915.23L62.02 915.62L64.44 915.49L66.84 915.48L69.18 914.97L71.51 914.38L73.16 915.31L75.08 915.26"/>
<path d="M161.3 806.3L161.78 808.25L162.56 810.1L163.59 811.86L163.94 813.85L166.12 814.09L168.2 815.14L170.3 816.12L172.6 816.42L174.75 817.11L176.9 817.8L178.62 819.37L180.8 819.99L182.49 821.61L184.01 822.87L185.42 824.33L185.9 826.55L187.62 827.77L189.26 829.61L190.04 831.84L191.06 833.98L191.4 836.4"/>
<path d="M201.5 831.4L203.33 829.98L205.53 829.48L207.77 829.08L209.67 827.42L212.06 826.9L214.38 826.23L216.52 825.14L218.56 826.44L219.59 828.81L221.58 830.22L223.56 831.29L225.68 831.99L227.81 832.68"/>
<path d="M201.7 851.5L202.33 853.84L203.78 855.82L203.92 858.37L205.76 860.19L206.93 861.87L208.54 863.26L210.21 864.59L211.85 865.95L212.79 868.01L213.73 870.41L215.02 872.82L214.37 875.14L212.82 876.75L211.22 878.32L210.7 880.52L209.9 882.45L209.13 884.42L207.72 886.06L206.72 887.91L205.42 889.34L204.36 890.9L204.42 893.01L205.62 894.31L206.01 896.23L206.6 898.05"/>
<path d="M140.2 851.5L142.18 850.92L144.32 851.66L146.19 850.22L148.28 850.52L150.29 850.24L152.39 850.12L154.53 850.44L156.54 849.56L158.6 849.15L160.79 849.94L162.78 848.82L165.4 848.83L167.75 850.16L170.32 850.2L169.55 852.49L167.72 853.95L165.61 854.25L163.72 855.31L161.76 856.18L159.6 856.51L157.82 857.85L156.58 859.5L154.4 859.98L153.27 861.79L151.32 862.57L152.12 865.31L152.98 867.75L154.65 868.8L156.61 869.58L158.2 871.09L160.33 871.53L162.73 872.53L165.35 872.72L164.64 874.99L163.26 876.55L161.59 877.89L160.22 879.3L159.66 881.12L159 882.9L161.38 884.32L162.88 886.62L164.62 885.63L166.34 884.43L167.83 882.94L168.82 881.16L169.5 879.3L169.27 877.14L170.56 875.49L172.39 874.41L174.17 872.96L175.69 871.11L177.93 870.35L179.32 868.4L181.47 867.36L183.16 865.78L184.93 864.29L186.62 862.71L188.56 861.53L190.16 859.86L192.39 859.15L194.29 857.94L195.26 856.24L195.57 854.32L196.6 852.75"/>
<path d="M162.8 886.7L164.43 887.98L166.44 888.75L167.76 890.46L167.03 892.36L167.55 894.47L166.89 896.44L167.35 898.54L166.65 900.51L168.14 902.66L170.28 904.22L172.02 902.77L172.55 900.49L173.74 898.68L175.2 897.06L176.66 895.44L178.7 895.45L180.18 893.63L182.26 893.62L184.16 893.07L185.48 894.73L186.34 896.91L187.51 898.88L188.96 900.66L190.69 902.41L191.7 904.62L193.13 906.56L195.18 905.78L196.84 903.78L199.08 902.79L201.39 901.86L202.75 899.89L204.31 898.11"/>
<path d="M314.3 726.1L312.58 727.2L310.54 727.31L308.57 727.65L306.84 728.71L304.86 727.84L302.82 727.96L300.81 727.78L298.85 727.21L296.78 727.57L295.95 725.74L295.26 724L294.49 722.31L291.77 722.13L289.41 720.92L286.82 720.98L285.21 722.84L283.66 724.63L281.8 726.1L280.72 727.64L279.71 729.22L279.11 731.01L277.24 730.16L275.8 728.3L273.79 727.29L271.76 726.31L269.8 725.9L267.7 725.45L265.6 726.37L263.91 727.93L263.43 730.47L262.01 732.47L262.19 735.02L261.14 737.42L260.75 739.93L258.88 740.91L257.11 741.86L256.33 744.06L254.29 744.66L253.1 746.45L253.47 748.66L252.4 750.38L252.08 752.36L249.97 753.71L248.24 755.31L246.93 757.33L245.38 759.04L244.69 761.19L244.5 763.6L243.03 765.37L241.96 767.33L240.27 768.92L239.83 771.33L237.85 772.73L236.79 774.72L236.08 776.73L234.87 778.46L234.61 780.67L233.13 782.26L231.35 783.58L229.54 784.94L227.98 786.66L225.76 787.39"/>
<path d="M273.1 674.9L273.2 677L274.71 678.75L274.83 680.84L275.03 682.92L275.62 684.89L274.08 686.36L273.28 688.34L271.76 689.8L273.64 691.7L276.23 692.12L277.96 693.93"/>
<path d="M281.8 670L284.28 670.5L286.7 671.44L289.25 671.49L290.1 673.28L291.19 675.24L291.65 677.46L293.8 677.14L295.69 676.57L297.35 675.31L299.32 674.96L300.03 672.7L302.03 671.35L303.68 672.49L306.04 672.6L308.08 673.51L310.52 673.19L313 672.49L312.61 674.97L311.81 677.37L311.81 679.9L312.19 681.85L313.24 683.59L313.67 685.53L314.07 687.48L314.22 689.98L315.65 692.31L315.59 694.89L315.46 697.46L314.22 699.82L314.38 702.41L312.52 703.39L311.27 705.06L309.99 706.67L308.13 707.56L306.58 709.68L304.43 711.23"/>
<path d="M240.6 697.4L240.2 699.9L239.56 702.36L239.59 704.93L237.29 705.98L235.19 707.07L232.59 707.01L230.6 708.36L230.56 710.98L228.91 712.75L228.4 714.98L230.36 714.8L232.4 715.36L234.39 716.14L236.21 718.04L237.89 720.11L236.38 721.21L235.83 723.38L234.51 724.98L234.56 727.14L234.07 729.29L233.08 731.37L233 733.57L235.28 734.4L237.41 735.09L239.47 735.94L241.38 735.78L243.1 734.7L245 734.16L246.89 733.58L246.01 735.92L244.89 738.11L243.36 740.05L241.25 740.88L240.14 742.87L237.98 743.43L236.87 742.14L237.1 739.98L235.91 738.5L235.02 740.71L233.48 742.17L231.9 743.6L230.21 744.93L229.72 747.14L228.07 748.51L226.58 749.53L224.97 750.48L223.32 751.34L222.62 753.16L221.25 754.83L220.1 756.6L219.26 758.53L218 760.04L215.91 760.62L214.92 762.56L213.1 763.47L210.63 763.24L208.21 762.26"/>
<path d="M189.5 769.8L187.96 771.76L185.63 772.76L184.09 774.71L182.07 776.08L179.5 775.56L177 775.85L174.59 777L171.98 777.22"/>
<path d="M204.5 774.8L203.94 776.76L203.24 778.7L204.45 780.9L203.73 782.84L203.35 784.82L202.01 786.63L201.27 788.63L201.49 790.99L199.9 792.68L199.67 794.86L198.44 796.36L197.28 797.86L197.2 799.9"/>
<path d="M130.1 786.7L129.17 789.05L129.39 791.63L128.62 794L126.91 795.63L125.29 797.32L124.75 799.87L122.83 801.32L121.59 803.46L120.09 805.4L118.55 807.31L117.04 809.21L115.21 810.88L114.02 813.02L113 814.91L111.57 816.62L111.2 818.85L109.26 819.88L107.58 821.22L105.78 822.36L103.75 823.11L102.05 824.52L99.84 824.95L98.02 826.14"/>
<path d="M100 817.6L100.31 820.19L101.2 822.63L102.62 824.24L103.31 826.33L105.24 827.52L103.31 829.28L102.68 831.57L100.96 833.13L99.79 835.06L102.26 835.31L104.45 834.91L106.62 834.39L108.78 833.78L110.41 835.2L111.54 836.89L112.51 838.72L114.08 840.05L114.94 841.76L115.14 843.74L116.38 845.21L118.42 844.24L120.5 843.44L122.53 842.52L124.59 841.33L126.39 839.76L127.89 837.89L129.79 838.13L131.66 836.84L133.72 837.08L135.65 836.29L137.72 836.54L139.91 836.68L141.12 838.94L143.61 838.69L145.09 840.41L146.63 842.57L149.19 843.81L147.3 845.63L145.23 846.9L143.94 848.94L141.83 849.84L140.32 851.69"/>
<path d="M175.3 776.5L177.33 776.1L179.33 775.56L181.42 775.62L183.44 775.13L185.54 775.28L186.06 772.84L186.88 770.81L188.54 769.22"/>
<path d="M84 805.2L85.91 803.76L87.7 802.14L90.28 801.73L92.09 800.14L94.37 800.91L96.41 802.59L99.09 802.79L100.03 801.32L101.26 799.8L102.63 798.4L104.17 797.14L105.09 798.91L107.46 799.54L108.65 801.35L110.13 802.87L108.91 804.86L107.9 806.79L105.8 807.93L104.88 809.91L107.17 811.24L109.75 811.04L112.05 811.82"/>
<path d="M140.2 943.2L140.92 941.32L141.28 939.32L143.98 938.07"/>
</g>
<path d="M249.9 690.7L249.9 682A8.7 8.7 0 0 1 250.99 682.07Z" fill="#10253f"/>
<path d="M249.9 690.7L250.99 682.07A8.7 8.7 0 0 1 256.6 685.15Z" fill="#558ed5"/>
<path d="M249.9 690.7L256.6 685.15A8.7 8.7 0 1 1 241.35 692.33Z" fill="#c6d9f1"/>
<path d="M249.9 690.7L241.35 692.33A8.7 8.7 0 0 1 249.9 682Z" fill="#a6a6a6"/>
<circle cx="249.9" cy="690.7" r="8.7" fill="none" stroke="#3b4a63" stroke-width="0.7"/>
<path d="M246.9 710.6L246.9 701.9A8.7 8.7 0 0 1 247.99 701.97Z" fill="#10253f"/>
<path d="M246.9 710.6L247.99 701.97A8.7 8.7 0 0 1 250.6 702.73Z" fill="#558ed5"/>
<path d="M246.9 710.6L250.6 702.73A8.7 8.7 0 0 1 251.09 718.22Z" fill="#c6d9f1"/>
<path d="M246.9 710.6L251.09 718.22A8.7 8.7 0 1 1 246.9 701.9Z" fill="#a6a6a6"/>
<circle cx="246.9" cy="710.6" r="8.7" fill="none" stroke="#3b4a63" stroke-width="0.7"/>
<path d="M277.6 701.4L277.6 692.7A8.7 8.7 0 0 1 278.69 692.77Z" fill="#10253f"/>
<path d="M277.6 701.4L278.69 692.77A8.7 8.7 0 0 1 282.26 694.05Z" fill="#558ed5"/>
<path d="M277.6 701.4L282.26 694.05A8.7 8.7 0 0 1 286.03 699.24Z" fill="#c6d9f1"/>
<path d="M277.6 701.4L286.03 699.24A8.7 8.7 0 1 1 277.6 692.7Z" fill="#a6a6a6"/>
<circle cx="277.6" cy="701.4" r="8.7" fill="none" stroke="#3b4a63" stroke-width="0.7"/>
<path d="M303.1 718.4L303.1 709.7A8.7 8.7 0 0 1 304.73 709.85Z" fill="#10253f"/>
<path d="M303.1 718.4L304.73 709.85A8.7 8.7 0 0 1 307.29 710.78Z" fill="#558ed5"/>
<path d="M303.1 718.4L307.29 710.78A8.7 8.7 0 0 1 306.8 726.27Z" fill="#c6d9f1"/>
<path d="M303.1 718.4L306.8 726.27A8.7 8.7 0 1 1 303.1 709.7Z" fill="#a6a6a6"/>
<circle cx="303.1" cy="718.4" r="8.7" fill="none" stroke="#3b4a63" stroke-width="0.7"/>
<path d="M293.1 709.9L293.1 701.2A8.7 8.7 0 0 1 294.19 701.27Z" fill="#10253f"/>
<path d="M293.1 709.9L294.19 701.27A8.7 8.7 0 0 1 296.8 702.03Z" fill="#558ed5"/>
<path d="M293.1 709.9L296.8 702.03A8.7 8.7 0 1 1 286.76 703.94Z" fill="#c6d9f1"/>
<path d="M293.1 709.9L286.76 703.94A8.7 8.7 0 0 1 293.1 701.2Z" fill="#a6a6a6"/>
<circle cx="293.1" cy="709.9" r="8.7" fill="none" stroke="#3b4a63" stroke-width="0.7"/>
<path d="M322 695.4L322 686.7A8.7 8.7 0 0 1 323.63 686.85Z" fill="#10253f"/>
<path d="M322 695.4L323.63 686.85A8.7 8.7 0 1 1 313.3 695.4Z" fill="#c6d9f1"/>
<path d="M322 695.4L313.3 695.4A8.7 8.7 0 0 1 322 686.7Z" fill="#a6a6a6"/>
<circle cx="322" cy="695.4" r="8.7" fill="none" stroke="#3b4a63" stroke-width="0.7"/>
<path d="M198.5 764.8L198.5 756.1A8.7 8.7 0 0 1 199.05 756.12Z" fill="#558ed5"/>
<path d="M198.5 764.8L199.05 756.12A8.7 8.7 0 1 1 191.15 769.46Z" fill="#c6d9f1"/>
<path d="M198.5 764.8L191.15 769.46A8.7 8.7 0 0 1 198.5 756.1Z" fill="#a6a6a6"/>
<circle cx="198.5" cy="764.8" r="8.7" fill="none" stroke="#3b4a63" stroke-width="0.7"/>
<path d="M145.4 782L145.4 773.3A8.7 8.7 0 0 1 146.49 773.37Z" fill="#10253f"/>
<path d="M145.4 782L146.49 773.37A8.7 8.7 0 1 1 136.97 779.84Z" fill="#558ed5"/>
<path d="M145.4 782L136.97 779.84A8.7 8.7 0 0 1 139.85 775.3Z" fill="#c6d9f1"/>
<path d="M145.4 782L139.85 775.3A8.7 8.7 0 0 1 145.4 773.3Z" fill="#a6a6a6"/>
<circle cx="145.4" cy="782" r="8.7" fill="none" stroke="#3b4a63" stroke-width="0.7"/>
<path d="M165.9 783.7L165.9 775A8.7 8.7 0 0 1 166.99 775.07Z" fill="#10253f"/>
<path d="M165.9 783.7L166.99 775.07A8.7 8.7 0 0 1 168.59 775.43Z" fill="#558ed5"/>
<path d="M165.9 783.7L168.59 775.43A8.7 8.7 0 0 1 171.86 777.36Z" fill="#c6d9f1"/>
<path d="M165.9 783.7L171.86 777.36A8.7 8.7 0 1 1 165.9 775Z" fill="#a6a6a6"/>
<circle cx="165.9" cy="783.7" r="8.7" fill="none" stroke="#3b4a63" stroke-width="0.7"/>
<path d="M192.4 789L192.4 780.3A8.7 8.7 0 0 1 192.95 780.32Z" fill="#10253f"/>
<path d="M192.4 789L192.95 780.32A8.7 8.7 0 0 1 200.95 790.63Z" fill="#558ed5"/>
<path d="M192.4 789L200.95 790.63A8.7 8.7 0 1 1 184.78 784.81Z" fill="#c6d9f1"/>
<path d="M192.4 789L184.78 784.81A8.7 8.7 0 0 1 192.4 780.3Z" fill="#a6a6a6"/>
<circle cx="192.4" cy="789" r="8.7" fill="none" stroke="#3b4a63" stroke-width="0.7"/>
<path d="M249.9 783L249.9 774.3A8.7 8.7 0 0 1 250.99 774.37Z" fill="#10253f"/>
<path d="M249.9 783L250.99 774.37A8.7 8.7 0 0 1 253.6 775.13Z" fill="#558ed5"/>
<path d="M249.9 783L253.6 775.13A8.7 8.7 0 0 1 257.77 786.7Z" fill="#c6d9f1"/>
<path d="M249.9 783L257.77 786.7A8.7 8.7 0 1 1 249.9 774.3Z" fill="#a6a6a6"/>
<circle cx="249.9" cy="783" r="8.7" fill="none" stroke="#3b4a63" stroke-width="0.7"/>
<path d="M33.4 813.9L33.4 805.2A8.7 8.7 0 1 1 29.21 806.28Z" fill="#10253f"/>
<path d="M33.4 813.9L29.21 806.28A8.7 8.7 0 0 1 31.24 805.47Z" fill="#c6d9f1"/>
<path d="M33.4 813.9L31.24 805.47A8.7 8.7 0 0 1 33.4 805.2Z" fill="#a6a6a6"/>
<circle cx="33.4" cy="813.9" r="8.7" fill="none" stroke="#3b4a63" stroke-width="0.7"/>
<path d="M73.6 814.9L73.6 806.2A8.7 8.7 0 1 1 70.91 823.17Z" fill="#10253f"/>
<path d="M73.6 814.9L70.91 823.17A8.7 8.7 0 0 1 73.6 806.2Z" fill="#c6d9f1"/>
<circle cx="73.6" cy="814.9" r="8.7" fill="none" stroke="#3b4a63" stroke-width="0.7"/>
<path d="M94.1 814.2L94.1 805.5A8.7 8.7 0 1 1 85.83 816.89Z" fill="#10253f"/>
<path d="M94.1 814.2L85.83 816.89A8.7 8.7 0 0 1 91.41 805.93Z" fill="#c6d9f1"/>
<path d="M94.1 814.2L91.41 805.93A8.7 8.7 0 0 1 94.1 805.5Z" fill="#a6a6a6"/>
<circle cx="94.1" cy="814.2" r="8.7" fill="none" stroke="#3b4a63" stroke-width="0.7"/>
<path d="M183.7 843.5L183.7 834.8A8.7 8.7 0 0 1 184.79 834.87Z" fill="#10253f"/>
<path d="M183.7 843.5L184.79 834.87A8.7 8.7 0 0 1 186.39 835.23Z" fill="#558ed5"/>
<path d="M183.7 843.5L186.39 835.23A8.7 8.7 0 0 1 192.25 841.87Z" fill="#c6d9f1"/>
<path d="M183.7 843.5L192.25 841.87A8.7 8.7 0 1 1 183.7 834.8Z" fill="#a6a6a6"/>
<circle cx="183.7" cy="843.5" r="8.7" fill="none" stroke="#3b4a63" stroke-width="0.7"/>
<path d="M201.3 842.9L201.3 834.2A8.7 8.7 0 1 1 195.34 836.56Z" fill="#c6d9f1"/>
<path d="M201.3 842.9L195.34 836.56A8.7 8.7 0 0 1 201.3 834.2Z" fill="#a6a6a6"/>
<circle cx="201.3" cy="842.9" r="8.7" fill="none" stroke="#3b4a63" stroke-width="0.7"/>
<path d="M81.6 868.3L81.6 859.6A8.7 8.7 0 0 1 86.71 875.34Z" fill="#10253f"/>
<path d="M81.6 868.3L86.71 875.34A8.7 8.7 0 0 1 74.56 873.41Z" fill="#c6d9f1"/>
<path d="M81.6 868.3L74.56 873.41A8.7 8.7 0 0 1 81.6 859.6Z" fill="#a6a6a6"/>
<circle cx="81.6" cy="868.3" r="8.7" fill="none" stroke="#3b4a63" stroke-width="0.7"/>
<path d="M62.8 949.4L62.8 940.7A8.7 8.7 0 0 1 66.5 941.53Z" fill="#10253f"/>
<path d="M62.8 949.4L66.5 941.53A8.7 8.7 0 0 1 61.71 958.03Z" fill="#558ed5"/>
<path d="M62.8 949.4L61.71 958.03A8.7 8.7 0 0 1 62.8 940.7Z" fill="#a6a6a6"/>
<circle cx="62.8" cy="949.4" r="8.7" fill="none" stroke="#3b4a63" stroke-width="0.7"/>
<path d="M108.5 949.4L108.5 940.7A8.7 8.7 0 1 1 99.8 949.4Z" fill="#10253f"/>
<path d="M108.5 949.4L99.8 949.4A8.7 8.7 0 0 1 99.87 948.31Z" fill="#558ed5"/>
<path d="M108.5 949.4L99.87 948.31A8.7 8.7 0 0 1 103.39 942.36Z" fill="#c6d9f1"/>
<path d="M108.5 949.4L103.39 942.36A8.7 8.7 0 0 1 108.5 940.7Z" fill="#a6a6a6"/>
<circle cx="108.5" cy="949.4" r="8.7" fill="none" stroke="#3b4a63" stroke-width="0.7"/>
<path d="M153.2 938.6L153.2 929.9A8.7 8.7 0 0 1 161.75 940.23Z" fill="#c6d9f1"/>
<path d="M153.2 938.6L161.75 940.23A8.7 8.7 0 1 1 153.2 929.9Z" fill="#a6a6a6"/>
<circle cx="153.2" cy="938.6" r="8.7" fill="none" stroke="#3b4a63" stroke-width="0.7"/>
<path d="M195.4 936.9L195.4 928.2A8.7 8.7 0 0 1 198.6 928.81Z" fill="#c6d9f1"/>
<path d="M195.4 936.9L198.6 928.81A8.7 8.7 0 1 1 195.4 928.2Z" fill="#a6a6a6"/>
<circle cx="195.4" cy="936.9" r="8.7" fill="none" stroke="#3b4a63" stroke-width="0.7"/>
<g stroke="#000" stroke-width="0.5" stroke-linejoin="miter">
<path d="M28.3 736.6L28.3 713.4L32.2 732.7Z" fill="#000"/>
<path d="M28.3 736.6L28.3 713.4L24.4 732.7Z" fill="#fff"/>
<path d="M28.3 736.6L51.5 736.6L32.2 740.5Z" fill="#000"/>
<path d="M28.3 736.6L51.5 736.6L32.2 732.7Z" fill="#fff"/>
<path d="M28.3 736.6L28.3 759.8L24.4 740.5Z" fill="#000"/>
<path d="M28.3 736.6L28.3 759.8L32.2 740.5Z" fill="#fff"/>
<path d="M28.3 736.6L5.1 736.6L24.4 732.7Z" fill="#000"/>
<path d="M28.3 736.6L5.1 736.6L24.4 740.5Z" fill="#fff"/>
</g>
<path d="M11.2 775.3V776.6H44.7V775.3" fill="none" stroke="#7f7f7f" stroke-width="0.8"/>
<g font-family="'Liberation Serif', 'Times New Roman', serif" fill="#333">
<text x="28.5" y="709.7" font-size="11.6" text-anchor="middle" fill="#111">N</text>
<text x="11.3" y="769.7" font-size="7.6" text-anchor="middle">0</text>
<text x="44" y="769.7" font-size="7.6" text-anchor="middle">5</text>
<text x="49.8" y="769.7" font-size="7.6">Km</text>
</g>
</g>
<g font-family="'Liberation Serif', 'Times New Roman', serif" fill="#000">
<text x="3.6" y="12.3" font-size="14.5">a)</text>
<text x="3.9" y="313.7" font-size="14.5">b)</text>
<text x="4.2" y="648.9" font-size="14.5">c)</text>
<text x="367.2" y="648.9" font-size="14.5">d)</text>
<g font-weight="bold" font-size="9" text-anchor="middle">
<text x="84.1" y="42.1">1</text>
<text x="130" y="42.1">2</text>
<text x="158.5" y="42.1">3</text>
<text x="181.6" y="42.1">4</text>
<text x="213.9" y="42.1">5</text>
<text x="239.1" y="42.1">6</text>
<text x="268.3" y="42.1">7</text>
<text x="291.3" y="42.1">9</text>
<text x="323.7" y="42.1">10</text>
<text x="347.2" y="42.1">11</text>
<text x="390.4" y="42.1">12</text>
<text x="421.5" y="42.1">13</text>
<text x="435.3" y="42.1">14</text>
<text x="465.7" y="42.1">15</text>
<text x="505.4" y="42.1">16</text>
<text x="523.3" y="42.1">17</text>
<text x="541.5" y="42.1">18/21</text>
<text x="563" y="42.1">22</text>
<text x="583.9" y="42.1">23</text>
<text x="606.6" y="42.1">24/25</text>
<text x="635" y="42.1">26</text>
<text x="81.5" y="348.1">1</text>
<text x="127.4" y="348.1">2</text>
<text x="155.9" y="348.1">3</text>
<text x="179" y="348.1">4</text>
<text x="211.3" y="348.1">5</text>
<text x="236.5" y="348.1">6</text>
<text x="265.7" y="348.1">7</text>
<text x="288.7" y="348.1">9</text>
<text x="321.1" y="348.1">10</text>
<text x="344.6" y="348.1">11</text>
<text x="387.8" y="348.1">12</text>
<text x="418.9" y="348.1">13</text>
<text x="432.7" y="348.1">14</text>
<text x="463.1" y="348.1">15</text>
<text x="502.8" y="348.1">16</text>
<text x="520.7" y="348.1">17</text>
<text x="538.9" y="348.1">18/21</text>
<text x="560.4" y="348.1">22</text>
<text x="581.3" y="348.1">23</text>
<text x="604" y="348.1">24/25</text>
<text x="632.4" y="348.1">26</text>
</g>
<g font-weight="bold" font-size="9.2" text-anchor="end">
<text x="31.3" y="52.1">1.00</text>
<text x="31.3" y="72.45">0.90</text>
<text x="31.3" y="92.8">0.80</text>
<text x="31.3" y="113.15">0.70</text>
<text x="31.3" y="133.5">0.60</text>
<text x="31.3" y="153.85">0.50</text>
<text x="31.3" y="174.2">0.40</text>
<text x="31.3" y="194.55">0.30</text>
<text x="31.3" y="214.9">0.20</text>
<text x="31.3" y="235.25">0.10</text>
<text x="31.3" y="255.6">0.00</text>
<text x="28.7" y="357.1">1.00</text>
<text x="28.7" y="377.45">0.90</text>
<text x="28.7" y="397.8">0.80</text>
<text x="28.7" y="418.15">0.70</text>
<text x="28.7" y="438.5">0.60</text>
<text x="28.7" y="458.85">0.50</text>
<text x="28.7" y="479.2">0.40</text>
<text x="28.7" y="499.55">0.30</text>
<text x="28.7" y="519.9">0.20</text>
<text x="28.7" y="540.25">0.10</text>
<text x="28.7" y="560.6">0.00</text>
</g>
<text x="648" y="145.8" font-size="14" font-weight="bold">K = 2</text>
<text x="645.7" y="452.1" font-size="14" font-weight="bold">K = 4</text>
<g font-weight="bold" font-size="8.75">
<rect x="291.1" y="269.4" width="4" height="4" fill="#10253f"/>
<text x="297.8" y="274.3">Cluster I</text>
<rect x="333.7" y="269.4" width="4" height="4" fill="#8db4e2"/>
<text x="340.3" y="274.3">Cluster II</text>
<rect x="235.1" y="575.1" width="4.4" height="4.4" fill="#10253f"/>
<text x="241.5" y="580">Cluster I</text>
<rect x="281.4" y="575.1" width="4.4" height="4.4" fill="#558ed5"/>
<text x="288" y="580">Cluster IIa</text>
<rect x="330.2" y="575.1" width="4.4" height="4.4" fill="#c6d9f1"/>
<text x="336.3" y="580">Cluster IIb</text>
<rect x="382.1" y="575.1" width="4.4" height="4.4" fill="#a6a6a6"/>
<text x="388" y="580">Cluster IIc</text>
</g>
</g>
</svg>
</body>
</html>
